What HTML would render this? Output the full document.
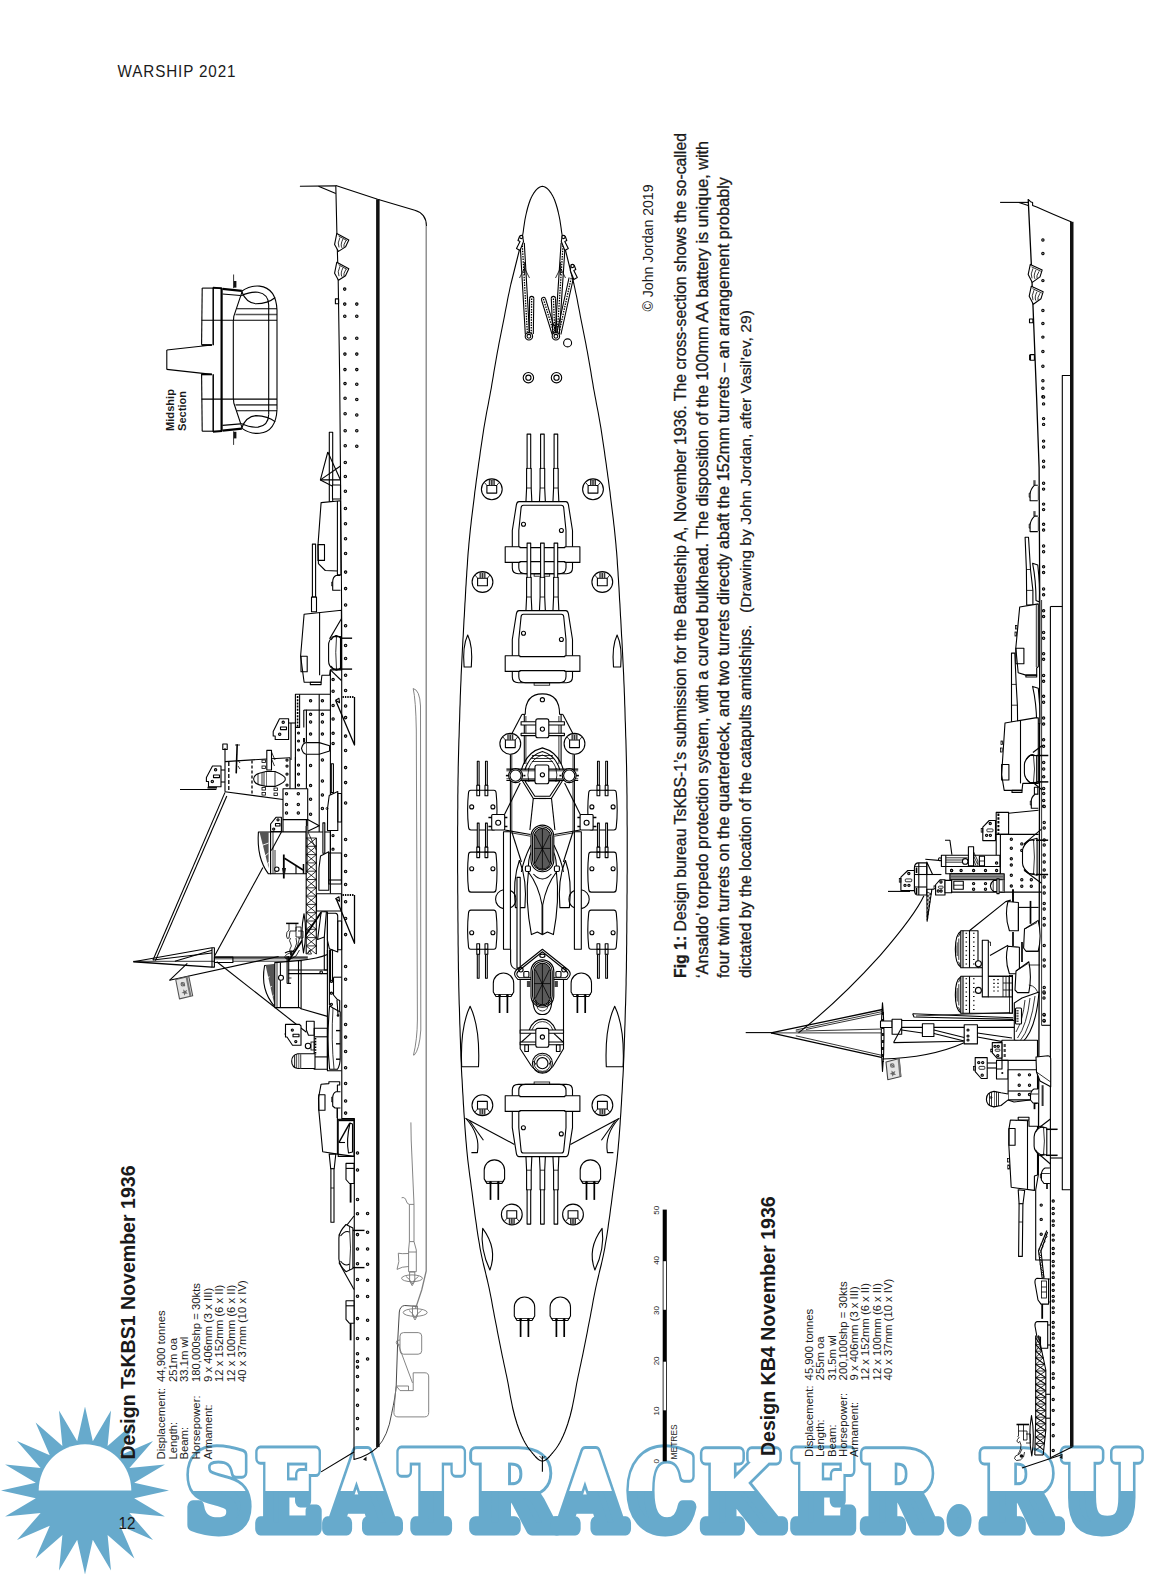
<!DOCTYPE html>
<html lang="en"><head><meta charset="utf-8"><title>Warship 2021 - page 12</title>
<style>
html,body{margin:0;padding:0;background:#fff;}
body{width:1163px;height:1576px;overflow:hidden;position:relative;font-family:"Liberation Sans",sans-serif;}
svg{position:absolute;left:0;top:0;display:block;}
.l{fill:none;stroke:#000;stroke-width:1.1;stroke-linejoin:round;stroke-linecap:butt;}
.t{fill:none;stroke:#000;stroke-width:.8;}
.g{fill:none;stroke:#777;stroke-width:.8;}
.w{fill:#fff;stroke:#000;stroke-width:1.1;stroke-linejoin:round;}
.k{fill:#111;stroke:none;}
.p{fill:#aaa;stroke:#000;stroke-width:1.05;}
text{font-family:"Liberation Sans",sans-serif;fill:#1a1a1a;}
</style></head><body>
<svg width="1163" height="1576" viewBox="0 0 1163 1576">
<!-- watermark -->
<defs><clipPath id="ct"><rect x="0" y="1400" width="1163" height="91"/></clipPath><clipPath id="cb"><rect x="0" y="1491" width="1163" height="100"/></clipPath></defs>
<g id="sun"><polygon fill="#67aacc" points="85.0,1406.5 77.2,1441.3 59.0,1410.6 62.4,1446.1 35.6,1422.5 49.8,1455.3 17.0,1441.1 40.6,1467.9 5.1,1464.5 35.8,1482.7 1.0,1490.5 35.8,1498.3 5.1,1516.5 40.6,1513.1 17.0,1539.9 49.8,1525.7 35.6,1558.5 62.4,1534.9 59.0,1570.4 77.2,1539.7 85.0,1574.5 92.8,1539.7 111.0,1570.4 107.6,1534.9 134.4,1558.5 120.2,1525.7 153.0,1539.9 129.4,1513.1 164.9,1516.5 134.2,1498.3 169.0,1490.5 134.2,1482.7 164.9,1464.5 129.4,1467.9 153.0,1441.1 120.2,1455.3 134.4,1422.5 107.6,1446.1 111.0,1410.6 92.8,1441.3"/>
<path fill="#fff" d="M38.7,1490.5 A46.3,46.3 0 0 1 131.3,1490.5 Z"/></g>
<g id="wm">
<g clip-path="url(#ct)"><text y="1528.70" font-size="104.80" style="font-family:'DejaVu Serif','Liberation Serif',serif;font-weight:bold;fill:#67aacc;stroke:#67aacc;stroke-width:13;stroke-linejoin:round"><tspan x="186.03" textLength="65.41" lengthAdjust="spacingAndGlyphs">S</tspan><tspan x="256.55" textLength="64.28" lengthAdjust="spacingAndGlyphs">E</tspan><tspan x="328.19" textLength="68.32" lengthAdjust="spacingAndGlyphs">A</tspan><tspan x="400.58" textLength="61.27" lengthAdjust="spacingAndGlyphs">T</tspan><tspan x="470.66" textLength="85.73" lengthAdjust="spacingAndGlyphs">R</tspan><tspan x="556.88" textLength="67.64" lengthAdjust="spacingAndGlyphs">A</tspan><tspan x="627.94" textLength="67.46" lengthAdjust="spacingAndGlyphs">C</tspan><tspan x="701.27" textLength="78.45" lengthAdjust="spacingAndGlyphs">K</tspan><tspan x="791.58" textLength="63.82" lengthAdjust="spacingAndGlyphs">E</tspan><tspan x="861.17" textLength="76.79" lengthAdjust="spacingAndGlyphs">R</tspan><tspan x="944.96" textLength="28.07" lengthAdjust="spacingAndGlyphs">.</tspan><tspan x="980.07" textLength="78.58" lengthAdjust="spacingAndGlyphs">R</tspan><tspan x="1062.24" textLength="78.02" lengthAdjust="spacingAndGlyphs">U</tspan></text><text y="1528.70" font-size="104.80" style="font-family:'DejaVu Serif','Liberation Serif',serif;font-weight:bold;fill:#fff;stroke:#fff;stroke-width:7;stroke-linejoin:round"><tspan x="186.03" textLength="65.41" lengthAdjust="spacingAndGlyphs">S</tspan><tspan x="256.55" textLength="64.28" lengthAdjust="spacingAndGlyphs">E</tspan><tspan x="328.19" textLength="68.32" lengthAdjust="spacingAndGlyphs">A</tspan><tspan x="400.58" textLength="61.27" lengthAdjust="spacingAndGlyphs">T</tspan><tspan x="470.66" textLength="85.73" lengthAdjust="spacingAndGlyphs">R</tspan><tspan x="556.88" textLength="67.64" lengthAdjust="spacingAndGlyphs">A</tspan><tspan x="627.94" textLength="67.46" lengthAdjust="spacingAndGlyphs">C</tspan><tspan x="701.27" textLength="78.45" lengthAdjust="spacingAndGlyphs">K</tspan><tspan x="791.58" textLength="63.82" lengthAdjust="spacingAndGlyphs">E</tspan><tspan x="861.17" textLength="76.79" lengthAdjust="spacingAndGlyphs">R</tspan><tspan x="944.96" textLength="28.07" lengthAdjust="spacingAndGlyphs">.</tspan><tspan x="980.07" textLength="78.58" lengthAdjust="spacingAndGlyphs">R</tspan><tspan x="1062.24" textLength="78.02" lengthAdjust="spacingAndGlyphs">U</tspan></text></g>
<g clip-path="url(#cb)"><text y="1528.70" font-size="104.80" style="font-family:'DejaVu Serif','Liberation Serif',serif;font-weight:bold;fill:#67aacc;stroke:#67aacc;stroke-width:13;stroke-linejoin:round"><tspan x="186.03" textLength="65.41" lengthAdjust="spacingAndGlyphs">S</tspan><tspan x="256.55" textLength="64.28" lengthAdjust="spacingAndGlyphs">E</tspan><tspan x="328.19" textLength="68.32" lengthAdjust="spacingAndGlyphs">A</tspan><tspan x="400.58" textLength="61.27" lengthAdjust="spacingAndGlyphs">T</tspan><tspan x="470.66" textLength="85.73" lengthAdjust="spacingAndGlyphs">R</tspan><tspan x="556.88" textLength="67.64" lengthAdjust="spacingAndGlyphs">A</tspan><tspan x="627.94" textLength="67.46" lengthAdjust="spacingAndGlyphs">C</tspan><tspan x="701.27" textLength="78.45" lengthAdjust="spacingAndGlyphs">K</tspan><tspan x="791.58" textLength="63.82" lengthAdjust="spacingAndGlyphs">E</tspan><tspan x="861.17" textLength="76.79" lengthAdjust="spacingAndGlyphs">R</tspan><tspan x="944.96" textLength="28.07" lengthAdjust="spacingAndGlyphs">.</tspan><tspan x="980.07" textLength="78.58" lengthAdjust="spacingAndGlyphs">R</tspan><tspan x="1062.24" textLength="78.02" lengthAdjust="spacingAndGlyphs">U</tspan></text></g>
</g>
<!-- text -->
<text transform="translate(117.6 77.4) scale(0.88 1)" font-size="17.3" fill="#333" letter-spacing="1">WARSHIP 2021</text>
<text x="118.6" y="1529.3" font-size="16" fill="#1d3850" textLength="17" lengthAdjust="spacingAndGlyphs">12</text>
<text transform="translate(135.4 1459.5) rotate(-90)" font-size="19.6" font-weight="bold" fill="#1a1a1a" textLength="294" lengthAdjust="spacingAndGlyphs">Design TsKBS1 November 1936</text>
<text transform="translate(775 1456) rotate(-90)" font-size="19.6" font-weight="bold" fill="#1a1a1a" textLength="259.7" lengthAdjust="spacingAndGlyphs">Design KB4 November 1936</text>
<text transform="translate(165.3 1459.5) rotate(-90)" font-size="11.3" font-weight="normal" fill="#1a1a1a">Displacement:</text>
<text transform="translate(812.9 1457) rotate(-90)" font-size="11.3" font-weight="normal" fill="#1a1a1a">Displacement:</text>
<text transform="translate(176.9 1459.5) rotate(-90)" font-size="11.3" font-weight="normal" fill="#1a1a1a">Length:</text>
<text transform="translate(824.2 1457) rotate(-90)" font-size="11.3" font-weight="normal" fill="#1a1a1a">Length:</text>
<text transform="translate(188.4 1459.5) rotate(-90)" font-size="11.3" font-weight="normal" fill="#1a1a1a">Beam:</text>
<text transform="translate(835.5 1457) rotate(-90)" font-size="11.3" font-weight="normal" fill="#1a1a1a">Beam:</text>
<text transform="translate(200.0 1459.5) rotate(-90)" font-size="11.3" font-weight="normal" fill="#1a1a1a">Horsepower:</text>
<text transform="translate(846.8 1457) rotate(-90)" font-size="11.3" font-weight="normal" fill="#1a1a1a">Horsepower:</text>
<text transform="translate(211.5 1459.5) rotate(-90)" font-size="11.3" font-weight="normal" fill="#1a1a1a">Armament:</text>
<text transform="translate(858.1 1457) rotate(-90)" font-size="11.3" font-weight="normal" fill="#1a1a1a">Armament:</text>
<text transform="translate(165.3 1382) rotate(-90)" font-size="11.3" font-weight="normal" fill="#1a1a1a">44,900 tonnes</text>
<text transform="translate(176.9 1382) rotate(-90)" font-size="11.3" font-weight="normal" fill="#1a1a1a">251m oa</text>
<text transform="translate(188.4 1382) rotate(-90)" font-size="11.3" font-weight="normal" fill="#1a1a1a">33.1m wl</text>
<text transform="translate(200.0 1382) rotate(-90)" font-size="11.3" font-weight="normal" fill="#1a1a1a">180,000shp = 30kts</text>
<text transform="translate(211.5 1382) rotate(-90)" font-size="11.3" font-weight="normal" fill="#1a1a1a">9 x 406mm (3 x III)</text>
<text transform="translate(223.1 1382) rotate(-90)" font-size="11.3" font-weight="normal" fill="#1a1a1a">12 x 152mm (6 x II)</text>
<text transform="translate(234.6 1382) rotate(-90)" font-size="11.3" font-weight="normal" fill="#1a1a1a">12 x 100mm (6 x II)</text>
<text transform="translate(246.2 1382) rotate(-90)" font-size="11.3" font-weight="normal" fill="#1a1a1a">40 x 37mm (10 x IV)</text>
<text transform="translate(812.9 1380.4) rotate(-90)" font-size="11.3" font-weight="normal" fill="#1a1a1a">45,900 tonnes</text>
<text transform="translate(824.2 1380.4) rotate(-90)" font-size="11.3" font-weight="normal" fill="#1a1a1a">255m oa</text>
<text transform="translate(835.5 1380.4) rotate(-90)" font-size="11.3" font-weight="normal" fill="#1a1a1a">31.5m wl</text>
<text transform="translate(846.8 1380.4) rotate(-90)" font-size="11.3" font-weight="normal" fill="#1a1a1a">200,100shp = 30kts</text>
<text transform="translate(858.1 1380.4) rotate(-90)" font-size="11.3" font-weight="normal" fill="#1a1a1a">9 x 406mm (3 x III)</text>
<text transform="translate(869.4 1380.4) rotate(-90)" font-size="11.3" font-weight="normal" fill="#1a1a1a">12 x 152mm (6 x II)</text>
<text transform="translate(880.7 1380.4) rotate(-90)" font-size="11.3" font-weight="normal" fill="#1a1a1a">12 x 100mm (6 x II)</text>
<text transform="translate(892.0 1380.4) rotate(-90)" font-size="11.3" font-weight="normal" fill="#1a1a1a">40 x 37mm (10 x IV)</text>
<text transform="translate(174 431) rotate(-90)" font-size="11" font-weight="bold" fill="#1a1a1a" textLength="42" lengthAdjust="spacingAndGlyphs">Midship</text>
<text transform="translate(186 431) rotate(-90)" font-size="11" font-weight="bold" fill="#1a1a1a" textLength="40" lengthAdjust="spacingAndGlyphs">Section</text>
<text transform="translate(652.5 311.5) rotate(-90)" font-size="14" font-weight="normal" fill="#333" textLength="127" lengthAdjust="spacingAndGlyphs">© John Jordan 2019</text>
<text transform="translate(685.7 978) rotate(-90)" font-size="16.8" fill="#1a1a1a" stroke="#1a1a1a" stroke-width=".3" textLength="845" lengthAdjust="spacingAndGlyphs"><tspan font-weight="bold">Fig 1:</tspan> Design bureau TsKBS-1’s submission for the Battleship A, November 1936. The cross-section shows the so-called</text>
<text transform="translate(707.6 978) rotate(-90)" font-size="16.8" font-weight="normal" fill="#1a1a1a" textLength="837" lengthAdjust="spacingAndGlyphs" stroke="#1a1a1a" stroke-width=".3">‘Ansaldo’ torpedo protection system, with a curved bulkhead. The disposition of the 100mm AA battery is unique, with</text>
<text transform="translate(729.4 978) rotate(-90)" font-size="16.8" font-weight="normal" fill="#1a1a1a" textLength="801" lengthAdjust="spacingAndGlyphs" stroke="#1a1a1a" stroke-width=".3">four twin turrets on the quarterdeck, and two turrets directly abaft the 152mm turrets – an arrangement probably</text>
<text transform="translate(751.4 978) rotate(-90)" font-size="16.8" font-weight="normal" fill="#1a1a1a" textLength="353.5" lengthAdjust="spacingAndGlyphs" stroke="#1a1a1a" stroke-width=".3">dictated by the location of the catapults amidships.</text>
<text transform="translate(751.4 613) rotate(-90)" font-size="14.5" font-weight="normal" fill="#1a1a1a" textLength="303" lengthAdjust="spacingAndGlyphs" stroke="#1a1a1a" stroke-width=".2">(Drawing by John Jordan, after Vasil’ev, 29)</text>
<text transform="translate(659.4 1461.3) rotate(-90)" font-size="8" text-anchor="middle" fill="#222">0</text>
<text transform="translate(659.4 1411.1) rotate(-90)" font-size="8" text-anchor="middle" fill="#222">10</text>
<text transform="translate(659.4 1360.9) rotate(-90)" font-size="8" text-anchor="middle" fill="#222">20</text>
<text transform="translate(659.4 1310.6) rotate(-90)" font-size="8" text-anchor="middle" fill="#222">30</text>
<text transform="translate(659.4 1260.4) rotate(-90)" font-size="8" text-anchor="middle" fill="#222">40</text>
<text transform="translate(659.4 1210.2) rotate(-90)" font-size="8" text-anchor="middle" fill="#222">50</text>
<text transform="translate(677.4 1459.4) rotate(-90)" font-size="8.3" font-weight="normal" fill="#222" textLength="35" lengthAdjust="spacingAndGlyphs">METRES</text>
<!-- mid -->
<polyline class="l" points="202.2,288.1 201.6,344.8"/>
<polyline class="l" points="201.6,373.8 202.2,431.2"/>
<polyline class="l" points="202.2,288.1 221.6,288.1"/>
<polyline class="l" points="202.2,431.2 221.6,431.2"/>
<polyline class="l" points="213.2,287.6 213.2,345.2" style="stroke-width:1.5"/>
<polyline class="l" points="201.6,345 211.9,345" style="stroke-width:1.8"/>
<polyline class="l" points="211.9,345 166.8,350"/>
<polyline class="l" points="201.6,320.3 277,320.3"/>
<polyline class="l" points="213,287.6 222,288.4" style="stroke-width:1.8"/>
<polyline class="l" points="222.5,288.8 241.8,290.8" style="stroke-width:2.2"/>
<polyline class="l" points="222.5,294 240.5,295.5"/>
<path class="l" d="M241.6,291.3 Q250,285.2 259.6,286.1 Q276,288 277,310"/>
<path class="l" d="M241.2,295.8 Q250,291.5 258,292.3 Q268.5,294 268.7,305"/>
<path class="l" d="M241.6,291.3 Q246,303 256,303.8 Q268,303.5 275.3,297.5"/>
<polyline class="l" points="242.2,291.3 233.8,316.4 233.5,320.3"/>
<polyline class="l" points="237,308.7 277,308.7"/>
<polyline class="l" points="235.5,314.5 277,314.5" style="stroke:#555;stroke-width:1.6"/>
<polyline class="t" points="233.6,274.5 233.6,288.1"/>
<rect class="k" x="233.8" y="281" width="2.6" height="6.6"/>
<polyline class="l" points="213.2,431.8 213.2,374.2" style="stroke-width:1.5"/>
<polyline class="l" points="201.6,374.4 211.9,374.4" style="stroke-width:1.8"/>
<polyline class="l" points="211.9,374.4 166.8,369.4"/>
<polyline class="l" points="201.6,399.1 277,399.1"/>
<polyline class="l" points="213,431.8 222,431" style="stroke-width:1.8"/>
<polyline class="l" points="222.5,430.6 241.8,428.6" style="stroke-width:2.2"/>
<polyline class="l" points="222.5,425.4 240.5,423.9"/>
<path class="l" d="M241.6,428.09999999999997 Q250,434.2 259.6,433.29999999999995 Q276,431.4 277,409.4"/>
<path class="l" d="M241.2,423.59999999999997 Q250,427.9 258,427.09999999999997 Q268.5,425.4 268.7,414.4"/>
<path class="l" d="M241.6,428.09999999999997 Q246,416.4 256,415.59999999999997 Q268,415.9 275.3,421.9"/>
<polyline class="l" points="242.2,428.1 233.8,403 233.5,399.1"/>
<polyline class="l" points="237,410.7 277,410.7"/>
<polyline class="l" points="235.5,404.9 277,404.9" style="stroke:#555;stroke-width:1.6"/>
<polyline class="t" points="233.6,444.9 233.6,431.3"/>
<rect class="k" x="233.8" y="431.8" width="2.6" height="6.6"/>
<polyline class="l" points="166.8,350 166.8,369.4"/>
<polyline class="l" points="221.6,288.1 221.6,431.2" style="stroke-width:2.2"/>
<polyline class="l" points="233.3,320.3 233.3,399.1"/>
<polyline class="l" points="268.7,305 268.7,414.4"/>
<polyline class="l" points="277,310 277,409.4"/>
<!-- under -->
<path class="l" d="M426.2,226 L426.2,1271 L421.7,1290 L415.5,1308.6" style="stroke:#808080;stroke-width:1.3"/>
<path class="l" d="M413.2,688.5 Q419.8,690 420.5,706 L420.8,1030 Q419.5,1050 414,1055.4 L413.5,1055 Q417.2,1040 417.4,1020 L416.3,730 Q415.8,700 413.2,688.5 Z" style="stroke:#777;stroke-width:.9"/>
<path class="l" d="M377.6,1447.1 Q388,1436 391.6,1413.8 Q395.5,1396 396.2,1386 L397.7,1341 L399.3,1312 Q400,1306 404.7,1305.5 L416.3,1306.3" style="stroke:#333;stroke-width:.9"/>
<path class="l" d="M410.9,1122.4 L411.2,1140 L414,1204.4" style="stroke:#777;stroke-width:.9"/>
<path class="l" d="M401.6,1197.8 Q405,1196.5 406.3,1201 Q407,1204 409.4,1204.4" style="stroke:#777;stroke-width:.9"/>
<rect class="l" x="409.4" y="1204.4" width="4.6" height="37.2" style="stroke:#777;stroke-width:.9"/>
<path class="l" d="M409.4,1241.6 L408.6,1250 L408.6,1271.7 L416.3,1271.7 L416.3,1250 L414,1241.6" style="stroke:#777;stroke-width:.9"/>
<polyline class="l" points="408.6,1252 416.3,1252" style="stroke:#777;stroke-width:.9"/>
<path class="l" d="M408.6,1253.5 Q401,1254 398.3,1253.2 Q400,1262 397,1269.4 Q402,1266.5 408.6,1266.5" style="stroke:#777;stroke-width:.9"/>
<ellipse cx="412" cy="1278.3" rx="10.4" ry="3.4" class="l" style="stroke:#777;stroke-width:.9"/>
<path class="l" d="M409.6,1272 L414.8,1272 L414.8,1281 L412.2,1285.7 L409.6,1281 Z" style="stroke:#777;stroke-width:.9" fill="#fff"/>
<path class="l" d="M406,1276.5 Q410,1279 412.2,1284 Q414,1279 418.5,1276.5" style="stroke:#777;stroke-width:.9"/>
<ellipse cx="415.2" cy="1312.5" rx="12" ry="3.8" class="l" style="stroke:#777;stroke-width:.9"/>
<path class="l" d="M412.5,1306 L417.5,1306 L417.5,1315.5 L415,1320 L412.5,1315.5 Z" style="stroke:#777;stroke-width:.9"/>
<path class="l" d="M409,1310.5 Q413,1313 415,1318 Q417,1313 421.5,1310.5" style="stroke:#777;stroke-width:.9"/>
<rect class="l" x="400" y="1332.6" width="21.7" height="21.6" rx="3.5" style="stroke:#777;stroke-width:.9"/>
<path class="l" d="M400,1340 L397,1340.5 Q395.5,1342.5 397,1344.5 L400,1345" style="stroke:#777;stroke-width:.9"/>
<polyline class="l" points="397.7,1343 412.5,1382.9" style="stroke:#777;stroke-width:.9"/>
<path class="l" d="M413.2,1372.8 L425,1372.8 Q428.7,1372.8 428.7,1377 L428.7,1412.5 Q428.7,1416.9 424.5,1416.9 L398,1416.9 Q393.9,1416.9 393.9,1412.5 L395.5,1392 L396.4,1386 L400,1390.6 L413.2,1390.6 Z" style="stroke:#777;stroke-width:.9"/>
<path class="l" d="M396.4,1386 L408.5,1386 L408.5,1390.6" style="stroke:#777;stroke-width:.9"/>
<!-- ship1 -->
<polyline class="l" points="299.9,186.2 335.8,185.9"/>
<polyline class="l" points="318.5,186.3 335.8,193.6"/>
<path class="l" d="M335.8,185.4 L377.6,199.3 L414.8,210.2 Q426.4,213.5 426.4,226"/>
<polyline class="l" points="335.8,185.4 336.9,233.4 338.2,280.6 339.7,379.7 341.3,570 341.7,620 341.8,1118.5 354.4,1118.5 354,1453.3"/>
<path class="l" d="M354,1453.3 L354,1459.5 Q368,1456 377.6,1447.1"/>
<polyline class="l" points="354,1452 321.1,1471.9"/>
<polygon class="k" points="363,1459.5 366.5,1456.5 366.5,1461"/>
<rect class="k" x="376.1" y="199.3" width="3.5" height="1247.8"/>
<circle class="p" cx="344.7" cy="289.1" r="1.25"/>
<circle class="p" cx="344.75" cy="304.1" r="1.25"/>
<circle class="p" cx="344.79" cy="316.2" r="1.25"/>
<circle class="p" cx="344.863" cy="338.2" r="1.25"/>
<circle class="p" cx="344.916" cy="354.1" r="1.25"/>
<circle class="p" cx="344.968" cy="369.6" r="1.25"/>
<circle class="p" cx="345.014" cy="383.6" r="1.25"/>
<circle class="p" cx="345.063" cy="398.3" r="1.25"/>
<circle class="p" cx="345.114" cy="413.8" r="1.25"/>
<circle class="p" cx="345.171" cy="430.7" r="1.25"/>
<circle class="p" cx="345.221" cy="445.8" r="1.25"/>
<circle class="p" cx="345.276" cy="462.4" r="1.25"/>
<circle class="p" cx="345.323" cy="476.5" r="1.25"/>
<circle class="p" cx="345.372" cy="491.2" r="1.25"/>
<circle class="p" cx="345.429" cy="508.5" r="1.25"/>
<circle class="p" cx="345.479" cy="523.7" r="1.25"/>
<circle class="p" cx="345.529" cy="538.7" r="1.25"/>
<circle class="p" cx="345.578" cy="553.4" r="1.25"/>
<circle class="p" cx="345.6" cy="572.1" r="1.25"/>
<circle class="p" cx="345.6" cy="588.6" r="1.25"/>
<circle class="p" cx="345.6" cy="604.9" r="1.25"/>
<circle class="p" cx="345.6" cy="625.8" r="1.25"/>
<circle class="p" cx="345.6" cy="645.4" r="1.25"/>
<circle class="p" cx="345.6" cy="658.4" r="1.25"/>
<circle class="p" cx="345.6" cy="675.3" r="1.25"/>
<circle class="p" cx="345.6" cy="690.5" r="1.25"/>
<circle class="p" cx="345.6" cy="706" r="1.25"/>
<circle class="p" cx="345.6" cy="717.6" r="1.25"/>
<circle class="p" cx="345.6" cy="736.1" r="1.25"/>
<circle class="p" cx="345.6" cy="750.4" r="1.25"/>
<circle class="p" cx="345.6" cy="767.6" r="1.25"/>
<circle class="p" cx="345.6" cy="782.6" r="1.25"/>
<circle class="p" cx="345.6" cy="803" r="1.25"/>
<circle class="p" cx="345.6" cy="839.4" r="1.25"/>
<circle class="p" cx="345.6" cy="855.5" r="1.25"/>
<circle class="p" cx="345.6" cy="871.5" r="1.25"/>
<circle class="p" cx="345.6" cy="884.4" r="1.25"/>
<circle class="p" cx="345.6" cy="901.7" r="1.25"/>
<circle class="p" cx="345.6" cy="918.5" r="1.25"/>
<circle class="p" cx="345.6" cy="934.6" r="1.25"/>
<circle class="p" cx="345.6" cy="966.4" r="1.25"/>
<circle class="p" cx="345.6" cy="979.2" r="1.25"/>
<circle class="p" cx="345.6" cy="1006.3" r="1.25"/>
<circle class="p" cx="345.6" cy="1024.4" r="1.25"/>
<circle class="p" cx="345.6" cy="1037.1" r="1.25"/>
<circle class="p" cx="345.6" cy="1051.5" r="1.25"/>
<circle class="p" cx="345.6" cy="1067.7" r="1.25"/>
<circle class="p" cx="345.6" cy="1083.5" r="1.25"/>
<circle class="p" cx="345.6" cy="1101" r="1.25"/>
<circle class="p" cx="345.6" cy="1113.1" r="1.25"/>
<circle class="p" cx="356.8" cy="304.1" r="1.25"/>
<circle class="p" cx="356.8" cy="316.2" r="1.25"/>
<circle class="p" cx="356.8" cy="338.2" r="1.25"/>
<circle class="p" cx="356.8" cy="354.1" r="1.25"/>
<circle class="p" cx="356.8" cy="369.6" r="1.25"/>
<circle class="p" cx="356.8" cy="384.2" r="1.25"/>
<circle class="p" cx="356.8" cy="399.4" r="1.25"/>
<circle class="p" cx="356.8" cy="414.9" r="1.25"/>
<circle class="p" cx="356.8" cy="430.7" r="1.25"/>
<circle class="p" cx="356.8" cy="446.3" r="1.25"/>
<circle class="p" cx="357.5" cy="1153" r="1.25"/>
<circle class="p" cx="357.5" cy="1170" r="1.25"/>
<circle class="p" cx="357.5" cy="1199.5" r="1.25"/>
<circle class="p" cx="357.5" cy="1213.7" r="1.25"/>
<circle class="p" cx="357.5" cy="1234.6" r="1.25"/>
<circle class="p" cx="357.5" cy="1249" r="1.25"/>
<circle class="p" cx="357.5" cy="1263.7" r="1.25"/>
<circle class="p" cx="357.5" cy="1279.5" r="1.25"/>
<circle class="p" cx="357.5" cy="1296.2" r="1.25"/>
<circle class="p" cx="357.5" cy="1318.6" r="1.25"/>
<circle class="p" cx="357.5" cy="1338.4" r="1.25"/>
<circle class="p" cx="357.5" cy="1353.8" r="1.25"/>
<circle class="p" cx="357.5" cy="1361.5" r="1.25"/>
<circle class="p" cx="357.5" cy="1367.1" r="1.25"/>
<circle class="p" cx="357.5" cy="1376.4" r="1.25"/>
<circle class="p" cx="357.5" cy="1390.1" r="1.25"/>
<circle class="p" cx="357.5" cy="1405.3" r="1.25"/>
<circle class="p" cx="357.5" cy="1418.5" r="1.25"/>
<circle class="p" cx="357.5" cy="1428.8" r="1.25"/>
<circle class="p" cx="367.6" cy="1213.4" r="1.25"/>
<circle class="p" cx="367.6" cy="1232.3" r="1.25"/>
<circle class="p" cx="367.6" cy="1249" r="1.25"/>
<circle class="p" cx="367.6" cy="1264.3" r="1.25"/>
<circle class="p" cx="367.6" cy="1280.3" r="1.25"/>
<circle class="p" cx="367.6" cy="1296.5" r="1.25"/>
<circle class="p" cx="367.6" cy="1320.2" r="1.25"/>
<circle class="p" cx="367.6" cy="1338.8" r="1.25"/>
<circle class="p" cx="367.6" cy="1358.9" r="1.25"/>
<rect class="l" x="335.4" y="298.9" width="3.2" height="4.9"/>
<polygon class="w" points="336.8,233.4 348.8,239.9 345.5,246.9 338.5,251.4 334.6,244.4"/>
<polyline class="t" points="338.5,235.9 347,240.6"/>
<path class="t" d="M340,237.4 q-3,6 -1,10 M343,238.9 q-3,6 -1,9 M346,240.4 q-3,5 -2,7"/>
<polygon class="w" points="336.8,262.2 348.8,268.7 345.5,275.7 338.5,280.2 334.6,273.2"/>
<polyline class="t" points="338.5,264.7 347,269.4"/>
<path class="t" d="M340,266.2 q-3,6 -1,10 M343,267.7 q-3,6 -1,9 M346,269.2 q-3,5 -2,7"/>
<rect class="w" x="329.3" y="432.2" width="3.4" height="69.4"/>
<polyline class="l" points="327.8,452 320.4,479.9 340.5,479.9"/>
<polyline class="l" points="327.8,452 340.5,479.9"/>
<polyline class="l" points="320.4,479.9 340.5,466"/>
<polyline class="l" points="320.4,479.9 340,490"/>
<rect class="w" x="332.5" y="485" width="8" height="14"/>
<polygon class="w" points="340.5,500.8 321.1,502.6 318,544.9 318.4,563.6 325.3,570.5 337.4,571 337.4,574.7 340.9,574.7"/>
<polyline class="l" points="337.4,500.9 337.4,571"/>
<rect class="l" x="318" y="544.6" width="6.5" height="15.8"/>
<rect class="w" x="312.4" y="544.1" width="3.2" height="53"/>
<rect class="w" x="311.5" y="597.1" width="5" height="14.7"/>
<path class="w" d="M340.5,575.5 L336,575.5 Q332.7,577 332.7,582 L332.7,590.2 L340.5,590.2"/>
<polyline class="t" points="332.7,582 331.7,582 331.7,586 332.7,586"/>
<polygon class="w" points="341.4,610.3 304.1,614.2 300.6,656 304.1,682.3 321.1,682.3 321.9,675.3 329.6,675.3 330.4,669.9 341.6,669.9"/>
<polyline class="l" points="319.6,612.6 319.6,675.3"/>
<rect class="l" x="301" y="656.3" width="6.2" height="15.4"/>
<rect class="l" x="310.3" y="682.3" width="10.8" height="2.3"/>
<polyline class="l" points="329.6,638.9 341.4,618.8"/>
<polyline class="l" points="330.4,669.9 341.4,680.5"/>
<path class="w" d="M340.5,636.6 L333,636.6 Q328.6,640 328.6,645 L328.6,661 Q328.6,666 333,669.1 L340.5,669.1 Z"/>
<path class="t" d="M336.5,636.6 Q335,652 336.5,669.1"/>
<path class="l" d="M331,640 Q336,632 340,638 M331,666 Q336,673 340,668"/>
<polyline class="l" points="340.5,638.2 352.1,638.2" style="stroke-width:1.4"/>
<polyline class="l" points="340.5,669.1 352.1,669.1" style="stroke-width:1.4"/>
<!-- ship1b -->
<polyline class="l" points="330.4,669.9 330.4,893.8"/>
<circle class="p" cx="333.1" cy="679.6" r="1.2"/>
<circle class="p" cx="333.1" cy="691.2" r="1.2"/>
<circle class="p" cx="333.1" cy="705.5" r="1.2"/>
<circle class="p" cx="333.1" cy="719" r="1.2"/>
<circle class="p" cx="333.1" cy="733.3" r="1.2"/>
<circle class="p" cx="333.1" cy="743.4" r="1.2"/>
<polyline class="l" points="295.4,788.2 295.4,694.3 330.4,694.3"/>
<polyline class="l" points="306.4,709.8 306.4,832"/>
<polyline class="l" points="303.8,710.1 330.4,710.1"/>
<polyline class="l" points="303.8,710.1 303.8,727.5"/>
<polyline class="l" points="319.2,694.3 319.2,832"/>
<polyline class="l" points="299.6,694.3 299.6,727.4 295.4,727.4"/>
<polyline class="l" points="297.6,696 297.6,727" stroke-dasharray="2 1.2" style="stroke-width:1.6"/>
<circle class="p" cx="310.6" cy="700.8" r="1.2"/>
<circle class="p" cx="310.6" cy="714.3" r="1.2"/>
<circle class="p" cx="310.6" cy="722" r="1.2"/>
<circle class="p" cx="310.6" cy="734.1" r="1.2"/>
<circle class="p" cx="322.4" cy="700.8" r="1.2"/>
<circle class="p" cx="322.4" cy="714.3" r="1.2"/>
<circle class="p" cx="322.4" cy="722" r="1.2"/>
<circle class="p" cx="322.4" cy="734.1" r="1.2"/>
<circle class="p" cx="322.4" cy="760" r="1.2"/>
<circle class="p" cx="322.4" cy="781" r="1.2"/>
<circle class="p" cx="322.4" cy="794.9" r="1.2"/>
<circle class="p" cx="322.4" cy="808.5" r="1.2"/>
<circle class="p" cx="310.6" cy="765.5" r="1.2"/>
<circle class="p" cx="310.6" cy="785.6" r="1.2"/>
<circle class="p" cx="310.6" cy="799.2" r="1.2"/>
<circle class="p" cx="310.6" cy="814.2" r="1.2"/>
<circle class="p" cx="298.5" cy="733" r="1"/>
<circle class="p" cx="298.5" cy="741" r="1"/>
<circle class="p" cx="298.5" cy="750" r="1"/>
<polygon class="w" points="273.2,731.5 279.5,718.8 288.6,718.8 288.6,739.5 275.2,739.5 275.2,736 273.2,736"/>
<circle class="p" cx="283.2" cy="722.3" r="1.2"/>
<circle class="p" cx="279.7" cy="734.2" r="1.2"/>
<rect class="l" x="280.5" y="727" width="6" height="2.6"/>
<polyline class="l" points="288.6,723 295.4,723"/>
<polyline class="l" points="291,723 291,760"/>
<polygon class="w" points="306.4,742.6 319.2,742.6 329.6,745.8 329.6,751 319.2,754.2 306.4,754.2"/>
<polyline class="l" points="319.2,742.6 319.2,754.2"/>
<path class="w" d="M306.4,742.6 Q303,742.6 301.5,748.4 Q303,754.2 306.4,754.2"/>
<rect class="k" x="303" y="738" width="2" height="4.6"/>
<polyline class="l" points="225,748 225,791.8"/>
<rect class="l" x="222.8" y="744" width="4.4" height="5.5"/>
<polyline class="l" points="225,761.6 266.8,759 290,757.7"/>
<polyline class="l" points="225,791.8 283,799.5"/>
<polyline class="l" points="228.8,762 228.8,792" stroke-dasharray="4 2" style="stroke-width:1.3"/>
<polyline class="l" points="252,760.5 252,795" stroke-dasharray="3 2" style="stroke-width:1.3"/>
<polygon class="w" points="206.4,777.5 212.5,766 221,766 221,786.8 208.5,786.8 208.5,781.5 206.4,781.5"/>
<circle class="p" cx="215.6" cy="769.8" r="1.2"/>
<circle class="p" cx="212.3" cy="781.5" r="1.2"/>
<rect class="l" x="213.5" y="775" width="6" height="2.6"/>
<polyline class="l" points="221,770 225,770"/>
<polyline class="l" points="221,782 225,782"/>
<rect class="k" x="207.5" y="786.8" width="9.5" height="1.8"/>
<polyline class="l" points="180,789.5 216.4,789.5"/>
<polyline class="l" points="237.2,744.2 236.2,773.4" style="stroke-width:1.6"/>
<polyline class="t" points="235,745 240,745"/>
<polyline class="t" points="238,760 240,763"/>
<polyline class="t" points="238,766 240,769"/>
<rect class="w" x="266.8" y="750.4" width="4.7" height="19.6"/>
<polyline class="t" points="271.5,752 275,760"/>
<polyline class="t" points="272,760 274.5,766"/>
<path class="w" d="M266,771.5 L275,771.5 Q286,776 285.3,779 Q286,782 275,786.4 L266,786.4 Z"/>
<path class="w" d="M266,771.5 L262,772.5 Q254,774 253.6,779 Q254,784 262,785.5 L266,786.4"/>
<polyline class="t" points="262,772.5 262,785.5"/>
<polyline class="t" points="264,772 264,786"/>
<polyline class="t" points="258,774 258,784"/>
<polyline class="t" points="275,771.5 275,786.4"/>
<rect class="t" x="262" y="760" width="3.4" height="2.6"/>
<rect class="t" x="262" y="766" width="3.4" height="2.6"/>
<rect class="t" x="262" y="787.5" width="3.4" height="2.6"/>
<rect class="t" x="262" y="792.5" width="3.4" height="2.6"/>
<rect class="t" x="274" y="788" width="3.4" height="2.6"/>
<rect class="t" x="274" y="793" width="3.4" height="2.6"/>
<circle class="p" cx="287" cy="760" r="1.1"/>
<circle class="p" cx="287" cy="766" r="1.1"/>
<circle class="p" cx="287" cy="774" r="1.1"/>
<circle class="p" cx="287" cy="785" r="1.1"/>
<circle class="p" cx="298.5" cy="765" r="1.1"/>
<circle class="p" cx="298.5" cy="774" r="1.1"/>
<circle class="p" cx="298.5" cy="785" r="1.1"/>
<polyline class="l" points="290,757.7 290,788.7"/>
<polyline class="l" points="295.4,757 295.4,788.7"/>
<polyline class="l" points="225,792.4 152.9,960.2"/>
<polyline class="l" points="226.8,796 155.4,960.6"/>
<polyline class="l" points="262.9,867.6 214.4,956.3"/>
<rect class="w" x="283" y="788.7" width="24.7" height="30.9"/>
<circle class="p" cx="286.5" cy="793.7" r="1.2"/>
<circle class="p" cx="286.5" cy="804.5" r="1.2"/>
<circle class="p" cx="286.5" cy="813" r="1.2"/>
<circle class="p" cx="298.3" cy="793.7" r="1.2"/>
<circle class="p" cx="298.3" cy="804.5" r="1.2"/>
<circle class="p" cx="298.3" cy="813" r="1.2"/>
<polyline class="l" points="283,819.6 283,832"/>
<polygon class="l" points="307.7,819.6 319.2,825.8 307.7,831.3"/>
<polyline class="l" points="270.6,832 330.4,832"/>
<polygon class="w" points="270.6,824 276,817.3 281.4,817.3 281.4,831.5 270.6,831.5"/>
<circle class="p" cx="278" cy="819.8" r="1.1"/>
<circle class="p" cx="273.7" cy="829" r="1.1"/>
<rect class="l" x="275.5" y="823.5" width="4.5" height="2.5"/>
<path class="w" d="M258.4,832 Q256.5,858 268.4,873.8 L270.6,873.8 L270.6,832 Z"/>
<path class="k" d="M259.5,832 L268.6,832 L268.6,868 Z" style="fill:#555"/>
<path class="l" d="M260.5,846 L268.6,843 M262.5,858 L268.6,853 M265.5,867.5 L268.6,862" style="stroke:#fff;stroke-width:.9;fill:none"/>
<rect class="w" x="270.6" y="832" width="35.6" height="41.8"/>
<polyline class="t" points="273,832 273,873.8"/>
<polyline class="t" points="275,850 275,873.8"/>
<polyline class="l" points="271.4,850.6 281.4,832"/>
<circle class="w" cx="276.8" cy="869.2" r="2.2"/>
<polyline class="l" points="283.8,854.5 283.8,878.5" style="stroke-width:1.8"/>
<polyline class="l" points="284.5,858.3 303.1,870" style="stroke-width:1.6"/>
<polyline class="l" points="296,866 296,873.8"/>
<polyline class="l" points="303.5,864 303.5,873.8" style="stroke-width:1.5"/>
<polygon class="k" points="282,868 286,868 285,874 283,874"/>
<polyline class="l" points="306.2,826 306.2,954"/>
<polyline class="l" points="316.3,838 316.3,954"/>
<polyline class="l" points="307.2,826 307.2,873" style="stroke:#666;stroke-width:1.4"/>
<polyline class="t" points="306.2,838 316.3,838"/>
<polyline class="t" points="306.2,838 316.3,846.3"/>
<polyline class="t" points="316.3,838 306.2,846.3"/>
<polyline class="t" points="306.2,846.3 316.3,846.3"/>
<polyline class="t" points="306.2,846.3 316.3,854.6"/>
<polyline class="t" points="316.3,846.3 306.2,854.6"/>
<polyline class="t" points="306.2,854.6 316.3,854.6"/>
<polyline class="t" points="306.2,854.6 316.3,862.9"/>
<polyline class="t" points="316.3,854.6 306.2,862.9"/>
<polyline class="t" points="306.2,862.9 316.3,862.9"/>
<polyline class="t" points="306.2,862.9 316.3,871.2"/>
<polyline class="t" points="316.3,862.9 306.2,871.2"/>
<polyline class="t" points="306.2,871.2 316.3,871.2"/>
<polyline class="t" points="306.2,871.2 316.3,879.5"/>
<polyline class="t" points="316.3,871.2 306.2,879.5"/>
<polyline class="t" points="306.2,879.5 316.3,879.5"/>
<polyline class="t" points="306.2,879.5 316.3,887.8"/>
<polyline class="t" points="316.3,879.5 306.2,887.8"/>
<polyline class="t" points="306.2,887.8 316.3,887.8"/>
<polyline class="t" points="306.2,887.8 316.3,896.1"/>
<polyline class="t" points="316.3,887.8 306.2,896.1"/>
<polyline class="t" points="306.2,896.1 316.3,896.1"/>
<polyline class="t" points="306.2,896.1 316.3,904.4"/>
<polyline class="t" points="316.3,896.1 306.2,904.4"/>
<polyline class="t" points="306.2,904.4 316.3,904.4"/>
<polyline class="t" points="306.2,904.4 316.3,912.7"/>
<polyline class="t" points="316.3,904.4 306.2,912.7"/>
<polyline class="t" points="306.2,912.7 316.3,912.7"/>
<polyline class="t" points="306.2,912.7 316.3,921"/>
<polyline class="t" points="316.3,912.7 306.2,921"/>
<polyline class="t" points="306.2,921 316.3,921"/>
<polyline class="t" points="306.2,921 316.3,929.3"/>
<polyline class="t" points="316.3,921 306.2,929.3"/>
<polyline class="t" points="306.2,929.3 316.3,929.3"/>
<polyline class="t" points="306.2,929.3 316.3,937.6"/>
<polyline class="t" points="316.3,929.3 306.2,937.6"/>
<polyline class="t" points="306.2,937.6 316.3,937.6"/>
<polyline class="t" points="306.2,937.6 316.3,945.9"/>
<polyline class="t" points="316.3,937.6 306.2,945.9"/>
<polyline class="t" points="306.2,945.9 316.3,945.9"/>
<polyline class="t" points="306.2,945.9 316.3,954.2"/>
<polyline class="t" points="316.3,945.9 306.2,954.2"/>
<polyline class="t" points="308,832 316.3,850"/>
<rect class="w" x="331.3" y="763.8" width="2.1" height="28.8"/>
<polygon class="w" points="337.8,791.5 329.2,795.5 327.6,808 327.5,830.5 337.8,830.5"/>
<rect class="l" x="337.8" y="793.5" width="3.6" height="28.5"/>
<circle class="t" cx="327" cy="808.5" r="1"/>
<rect class="w" x="322.9" y="822.9" width="1.9" height="30.3"/>
<polygon class="w" points="328.8,851.8 320.5,856 319,868 318.9,890.3 328.8,890.3"/>
<rect class="l" x="328.8" y="853" width="12.6" height="31"/>
<polyline class="l" points="328.8,880 341.4,880"/>
<circle class="p" cx="333" cy="835.5" r="1.1"/>
<circle class="p" cx="333" cy="849.2" r="1.1"/>
<polyline class="l" points="330.4,832 330.4,853"/>
<rect class="w" x="316.5" y="893.8" width="24.9" height="17.2"/>
<polyline class="l" points="335.8,700.8 354.5,745 354.5,697" style="stroke-width:1.3"/>
<polyline class="l" points="342.5,697 354.5,697" stroke-dasharray="1.4 1" style="stroke-width:2"/>
<polygon class="l" points="335.6,700.3 339,698.3 339.5,702.8"/>
<polyline class="l" points="336.4,899.3 354.5,943.3 354.5,895.1" style="stroke-width:1.3"/>
<polyline class="l" points="342.5,895.1 354.5,895.1" stroke-dasharray="1.4 1" style="stroke-width:2"/>
<polygon class="l" points="335.6,898.8 339,896.8 339.5,901.3"/>
<!-- ship1c -->
<rect class="w" x="324.3" y="911.7" width="3.1" height="58.3"/>
<polygon class="w" points="321.2,911.7 326.4,911.7 324.3,937 317.6,939.5"/>
<path class="w" d="M327.4,913.2 L335.5,913.2 Q337.7,913.5 337.7,916 L337.7,951.9 L329.4,948.8 L327.4,940 Z"/>
<rect class="l" x="337.7" y="921" width="3.9" height="28.8"/>
<rect class="w" x="330.5" y="950" width="2" height="31.8"/>
<polyline class="l" points="321.2,912.2 288.2,961.2" style="stroke-width:1.8"/>
<path class="w" d="M304,913.7 Q300,933 303.5,952.9 Q307.5,933 304,913.7 Z"/>
<polyline class="l" points="286.1,923.4 298.5,923.4" style="stroke-width:1.5"/>
<path class="t" d="M289,924 L289,930 Q286,932 286.5,936 Q287,940 289,938 L290,931 L296,931 L296,924 M296,927 L301,927 L301,937 L296,937 Z M298,931 L303,931 L303,938 L298,938"/>
<path class="t" d="M290.5,938 q-2,3 0,5 q2,3 -0.5,6 q-1,2 0.5,4 M296,938 q2,5 -1,10 q-1,3 -3,4 M299.5,938 L297,948 L290,953 Q284,955 285,958 Q289,961 296,956 L299.5,950"/>
<path class="l" d="M285,953 Q289,950 295,952"/>
<rect class="k" x="290" y="950.5" width="2.5" height="5"/>
<polygon class="t" points="307.5,954 309.5,950 311.5,954"/>
<polyline class="l" points="133.4,961.7 212,947.8"/>
<polyline class="l" points="133.4,961.7 212,967.1" style="stroke-width:1.4"/>
<polyline class="l" points="212,947.8 214.4,947.8 214.4,967.1 212,967.1 212,947.8"/>
<polyline class="l" points="174.9,961.2 212,950.2"/>
<polyline class="l" points="153.2,960 212,953"/>
<polyline class="t" points="133.4,961.3 214.4,961.3"/>
<polyline class="l" points="214.4,957.1 307.8,957.1"/>
<polyline class="t" points="214.4,958.8 307.8,958.8"/>
<rect class="l" x="214.4" y="957.1" width="18.5" height="5.4"/>
<polyline class="t" points="232.9,961.2 301.6,961.2"/>
<polyline class="l" points="169.5,980.3 278.6,956.5"/>
<polyline class="l" points="169.5,980.3 187.3,963.3"/>
<polyline class="l" points="216.7,961.7 306.4,1032.2"/>
<polygon class="w" points="175.7,979.5 188.8,976.4 192.7,995.8 179.5,998.9" style="fill:#e4e4e4;stroke:#555"/>
<polyline class="l" points="186.6,977 190.5,996.3" style="stroke:#777;stroke-width:2"/>
<polygon class="k" points="181.45,992.89 183.52,991.67 183.2,989.3 185,990.89 187.16,989.85 186.21,992.05 187.86,993.79 185.47,993.56 184.33,995.67 183.81,993.33" style="fill:#666"/>
<circle class="l" cx="182.8" cy="984.3" r="1.7" style="stroke:#666;stroke-width:1.1"/>
<polyline class="l" points="181,982.8 185,986" style="stroke:#666;stroke-width:1.1"/>
<path class="w" d="M264.6,965.5 Q260,990 274.8,1006.6 L274.8,964.8 Z"/>
<path class="k" d="M265.6,965.3 L274.3,964.8 L274.3,1004.5 Z" style="fill:#555"/>
<path class="l" d="M266.5,978 L269.5,976.8 M268,988.5 L271.8,986.3 M270.5,998 L273.5,995.2" style="stroke:#fff;stroke-width:.9;fill:none"/>
<polygon class="w" points="274.8,962.6 301.1,960.4 301.1,1008.7 299.5,1007.6 274.8,1007.6"/>
<polyline class="t" points="277,962.6 277,1007.6"/>
<polyline class="l" points="280.4,962.4 280.4,1007.6"/>
<polyline class="l" points="298.5,960.6 298.5,1007.6"/>
<path class="l" d="M301.1,960.4 Q318,958.5 327.4,954.5"/>
<polyline class="l" points="301.1,1008.7 327.4,1016.4"/>
<polyline class="l" points="288.2,970 327.4,970"/>
<polyline class="l" points="288.2,973.6 327.4,973.6"/>
<circle class="w" cx="281" cy="977.7" r="2.5"/>
<circle class="w" cx="321.2" cy="972.3" r="1.3"/>
<polyline class="l" points="287.1,956 287.1,983.4"/>
<polyline class="l" points="288.7,956 288.7,983.4"/>
<polyline class="l" points="287.1,983.4 291,983.4"/>
<polyline class="t" points="288.7,978 291.5,978"/>
<polyline class="l" points="327.4,950 327.4,1070.8 341.6,1070.8"/>
<polyline class="l" points="329.4,949.8 329.4,1005"/>
<circle class="p" cx="331.4" cy="981.3" r="1.1"/>
<circle class="p" cx="331.4" cy="993.2" r="1.1"/>
<circle class="p" cx="331.4" cy="1004.3" r="1.1"/>
<polyline class="l" points="333.5,977.2 341.6,977.2"/>
<polyline class="l" points="333.5,977.2 333.5,995 337.4,999.6 339.7,1000.4 339.7,1016.7"/>
<path class="w" d="M329.6,1005.8 Q326.5,1040 329.6,1069.3 L337.5,1069.3 Q340.2,1065 340.2,1058 L340.2,1012 L333,1008 Z"/>
<path class="t" d="M333,1008 Q331,1040 334,1069"/>
<polyline class="l" points="336,1030.6 340.2,1030.6" style="stroke-width:1.4"/>
<polyline class="l" points="336,1043.8 340.2,1043.8" style="stroke-width:1.4"/>
<polyline class="l" points="336,1059.2 340.2,1059.2" style="stroke-width:1.4"/>
<circle class="k" cx="338" cy="1015.5" r="1.3"/>
<polyline class="l" points="337,1000 338,1015"/>
<polygon class="w" points="306.4,1021.3 314.2,1021.3 314.2,1035.2 308.5,1035.2 306.4,1030"/>
<rect class="l" x="314.2" y="1028.3" width="13.2" height="41"/>
<polyline class="l" points="314.2,1036.8 327.4,1036.8"/>
<polyline class="l" points="314.2,1056.9 327.4,1056.9"/>
<polyline class="l" points="315.4,1038 315.4,1055" stroke-dasharray="1.6 1.2" style="stroke-width:1.8"/>
<polygon class="w" points="285.5,1037 285.5,1024.4 299.5,1024.4 301,1026 301,1045.3 292.5,1045.3 287,1037"/>
<polyline class="t" points="284.3,1034 285.5,1034"/>
<circle class="p" cx="292.3" cy="1030" r="1.1"/>
<circle class="p" cx="295.8" cy="1041.5" r="1.1"/>
<rect class="l" x="293" y="1034.2" width="6" height="2.6"/>
<circle class="w" cx="308" cy="1046" r="2.7"/>
<rect class="t" x="311" y="1042" width="3.2" height="8"/>
<path class="w" d="M297.9,1053.8 L315,1053.8 L315,1068.5 L297.9,1068.5 Z"/>
<path class="w" d="M297.9,1053.8 Q291.7,1055 291.7,1061.2 Q291.7,1067.5 297.9,1068.5"/>
<polyline class="t" points="294.5,1055 294.5,1067.5"/>
<polyline class="t" points="296.3,1054.2 296.3,1068"/>
<polyline class="l" points="300.5,1053.8 300.5,1068.5" style="stroke:#666;stroke-width:1.6"/>
<polygon class="w" points="328.9,1081.7 339.7,1081.7 339.7,1085 337.4,1085 337.4,1154.1 322.7,1151.8 318.8,1110 318.5,1098 321.1,1084.2 328.9,1083.6"/>
<rect class="l" x="318.8" y="1094.8" width="6.2" height="15.5"/>
<path class="w" d="M340.5,1091.7 L336,1091.7 Q332.7,1093 332.7,1098 L332.7,1106 L335,1108 L340.5,1108"/>
<polyline class="t" points="332.7,1097 331.7,1097 331.7,1102 332.7,1102"/>
<polyline class="t" points="337,1108 337,1118"/>
<polyline class="l" points="337.4,1154.1 354,1156.4"/>
<rect class="l" x="338.2" y="1119.3" width="15.8" height="37.1"/>
<polyline class="l" points="338.5,1120.3 354,1120.3" style="stroke-width:1.8"/>
<polyline class="l" points="349.8,1123.2 338.9,1142.5" style="stroke-width:1.5"/>
<polyline class="l" points="338.9,1142.5 345,1142.5"/>
<path class="l" d="M350,1123 Q346,1140 348.5,1153 L352.5,1152 L352.5,1124 Z"/>
<polygon class="w" points="329.2,1154.1 335.8,1154.1 334.2,1168.8 330.7,1168.8"/>
<rect class="w" x="330.9" y="1168.8" width="3.1" height="53.4"/>
<polyline class="t" points="330.9,1188 334,1188"/>
<polygon class="w" points="346,1163.4 354,1163.4 354,1183.5 349.5,1183.5 346,1179.5"/>
<polyline class="l" points="346,1168.4 354,1168.4"/>
<polyline class="l" points="350.6,1183.5 350.6,1202.6" style="stroke-width:1.8"/>
<polygon class="w" points="346,1300.8 354,1300.8 354,1323.3 349.5,1323.3 346,1319.3"/>
<polyline class="l" points="346,1305.8 354,1305.8"/>
<polyline class="l" points="350.6,1323.3 350.6,1340.3" style="stroke-width:1.8"/>
<polyline class="l" points="354,1216 338.9,1235.4"/>
<polyline class="l" points="338.9,1262.5 354,1289.5"/>
<path class="w" d="M352.9,1228 L346,1224.5 Q338.9,1232 338.9,1238 L338.9,1259 Q339.5,1266 346,1271.7 L352.9,1268.5 Z"/>
<path class="t" d="M349.5,1226.5 Q351.5,1248 349.5,1270"/>
<path class="l" d="M340.5,1236 Q345,1230 349.5,1232 M340.5,1261 Q345,1267 349.5,1264"/>
<polyline class="l" points="352.9,1230.4 364.5,1230.4" style="stroke-width:1.4"/>
<polyline class="l" points="352.9,1267.6 364.5,1267.6" style="stroke-width:1.4"/>
<!-- plan -->
<path class="l" d="M542.4,186.2 L540.6,186.7 L539.4,187.2 L538.7,187.7 L538.0,188.2 L537.5,188.7 L537.0,189.2 L536.5,189.7 L536.0,190.2 L535.6,190.7 L535.2,191.2 L534.8,191.7 L534.5,192.2 L534.1,192.7 L533.7,193.2 L533.4,193.7 L533.1,194.2 L532.8,194.7 L532.5,195.2 L532.2,195.7 L531.9,196.2 L531.7,196.7 L531.4,197.2 L531.2,197.7 L531.0,198.2 L530.7,198.7 L530.5,199.2 L530.3,199.7 L530.2,200.0 L528.8,204.0 L527.6,208.0 L526.6,212.0 L525.7,216.0 L524.9,220.0 L524.3,224.0 L523.7,228.0 L523.2,232.0 L522.5,236.0 L521.7,240.0 L520.8,244.0 L519.9,248.0 L518.9,252.0 L517.9,256.0 L516.9,260.0 L515.9,264.0 L514.9,268.0 L513.9,272.0 L512.9,276.0 L511.9,280.0 L510.9,284.0 L510.0,288.0 L509.2,292.0 L508.3,296.0 L507.5,300.0 L506.8,304.0 L506.0,308.0 L505.2,312.0 L504.5,316.0 L503.7,320.0 L502.9,324.0 L502.1,328.0 L501.3,332.0 L500.5,336.0 L499.7,340.0 L498.9,344.0 L498.2,348.0 L497.4,352.0 L496.7,356.0 L496.0,360.0 L495.3,364.0 L494.6,368.0 L493.9,372.0 L493.3,376.0 L492.6,380.0 L491.9,384.0 L491.3,388.0 L490.5,392.0 L489.8,396.0 L489.0,400.0 L488.3,404.0 L487.5,408.0 L486.7,412.0 L486.0,416.0 L485.3,420.0 L484.6,424.0 L483.9,428.0 L483.3,432.0 L482.7,436.0 L482.1,440.0 L481.5,444.0 L480.9,448.0 L480.3,452.0 L479.8,456.0 L479.2,460.0 L478.6,464.0 L478.1,468.0 L477.5,472.0 L477.0,476.0 L476.4,480.0 L475.9,484.0 L475.4,488.0 L474.8,492.0 L474.4,496.0 L473.9,500.0 L473.4,504.0 L472.9,508.0 L472.4,512.0 L471.9,516.0 L471.4,520.0 L471.0,524.0 L470.5,528.0 L470.1,532.0 L469.7,536.0 L469.3,540.0 L468.9,544.0 L468.6,548.0 L468.2,552.0 L467.9,556.0 L467.6,560.0 L467.4,564.0 L467.1,568.0 L466.8,572.0 L466.6,576.0 L466.3,580.0 L466.1,584.0 L465.8,588.0 L465.6,592.0 L465.4,596.0 L465.2,600.0 L464.9,604.0 L464.7,608.0 L464.5,612.0 L464.3,616.0 L464.0,620.0 L463.8,624.0 L463.6,628.0 L463.4,632.0 L463.2,636.0 L462.9,640.0 L462.7,644.0 L462.5,648.0 L462.3,652.0 L462.1,656.0 L461.9,660.0 L461.7,664.0 L461.5,668.0 L461.3,672.0 L461.1,676.0 L461.0,680.0 L460.8,684.0 L460.6,688.0 L460.5,692.0 L460.3,696.0 L460.2,700.0 L460.1,704.0 L459.9,708.0 L459.8,712.0 L459.7,716.0 L459.6,720.0 L459.4,724.0 L459.3,728.0 L459.2,732.0 L459.1,736.0 L458.9,740.0 L458.8,744.0 L458.7,748.0 L458.6,752.0 L458.5,756.0 L458.4,760.0 L458.3,764.0 L458.2,768.0 L458.2,772.0 L458.1,776.0 L458.0,780.0 L458.0,784.0 L457.9,788.0 L457.9,792.0 L457.8,796.0 L457.8,800.0 L457.8,804.0 L457.8,808.0 L457.7,812.0 L457.7,816.0 L457.7,820.0 L457.7,824.0 L457.6,828.0 L457.6,832.0 L457.6,836.0 L457.6,840.0 L457.6,844.0 L457.6,848.0 L457.6,852.0 L457.6,856.0 L457.6,860.0 L457.6,864.0 L457.6,868.0 L457.6,872.0 L457.7,876.0 L457.7,880.0 L457.7,884.0 L457.7,888.0 L457.7,892.0 L457.8,896.0 L457.8,900.0 L457.8,904.0 L457.8,908.0 L457.9,912.0 L457.9,916.0 L457.9,920.0 L458.0,924.0 L458.0,928.0 L458.0,932.0 L458.1,936.0 L458.1,940.0 L458.1,944.0 L458.2,948.0 L458.2,952.0 L458.3,956.0 L458.3,960.0 L458.4,964.0 L458.4,968.0 L458.5,972.0 L458.6,976.0 L458.7,980.0 L458.7,984.0 L458.8,988.0 L458.9,992.0 L459.0,996.0 L459.1,1000.0 L459.2,1004.0 L459.4,1008.0 L459.5,1012.0 L459.6,1016.0 L459.7,1020.0 L459.8,1024.0 L460.0,1028.0 L460.1,1032.0 L460.2,1036.0 L460.4,1040.0 L460.5,1044.0 L460.6,1048.0 L460.8,1052.0 L460.9,1056.0 L461.1,1060.0 L461.3,1064.0 L461.4,1068.0 L461.6,1072.0 L461.8,1076.0 L462.1,1080.0 L462.3,1084.0 L462.5,1088.0 L462.7,1092.0 L463.0,1096.0 L463.2,1100.0 L463.4,1104.0 L463.7,1108.0 L463.9,1112.0 L464.2,1116.0 L464.5,1120.0 L464.7,1124.0 L465.0,1128.0 L465.3,1132.0 L465.6,1136.0 L465.9,1140.0 L466.3,1144.0 L466.6,1148.0 L467.0,1152.0 L467.4,1156.0 L467.8,1160.0 L468.3,1164.0 L468.8,1168.0 L469.3,1172.0 L469.8,1176.0 L470.4,1180.0 L470.9,1184.0 L471.4,1188.0 L472.0,1192.0 L472.5,1196.0 L473.0,1200.0 L473.5,1204.0 L474.1,1208.0 L474.6,1212.0 L475.1,1216.0 L475.7,1220.0 L476.3,1224.0 L476.8,1228.0 L477.4,1232.0 L478.0,1236.0 L478.7,1240.0 L479.4,1244.0 L480.0,1248.0 L480.8,1252.0 L481.6,1256.0 L482.5,1260.0 L483.4,1264.0 L484.4,1268.0 L485.4,1272.0 L486.3,1276.0 L487.3,1280.0 L488.2,1284.0 L489.1,1288.0 L489.9,1292.0 L490.7,1296.0 L491.5,1300.0 L492.2,1304.0 L492.9,1308.0 L493.7,1312.0 L494.4,1316.0 L495.2,1320.0 L496.0,1324.0 L496.8,1328.0 L497.5,1332.0 L498.3,1336.0 L499.1,1340.0 L499.9,1344.0 L500.7,1348.0 L501.5,1352.0 L502.3,1356.0 L503.2,1360.0 L504.0,1364.0 L504.9,1368.0 L505.7,1372.0 L506.6,1376.0 L507.4,1380.0 L508.2,1384.0 L508.9,1388.0 L509.6,1392.0 L510.3,1396.0 L511.1,1400.0 L511.9,1404.0 L512.7,1408.0 L513.7,1412.0 L514.7,1416.0 L515.9,1420.0 L517.1,1424.0 L518.5,1428.0 L520.0,1432.0 L521.7,1436.0 L523.6,1440.0 L523.9,1440.5 L524.1,1441.0 L524.4,1441.5 L524.7,1442.0 L524.9,1442.5 L525.2,1443.0 L525.5,1443.5 L525.8,1444.0 L526.1,1444.5 L526.4,1445.0 L526.7,1445.5 L527.1,1446.0 L527.4,1446.5 L527.7,1447.0 L528.1,1447.5 L528.4,1448.0 L528.8,1448.5 L529.1,1449.0 L529.5,1449.5 L529.9,1450.0 L530.3,1450.5 L530.7,1451.0 L531.1,1451.5 L531.5,1452.0 L531.9,1452.5 L532.3,1453.0 L532.8,1453.5 L533.2,1454.0 L533.6,1454.5 L534.0,1455.0 L534.5,1455.5 L534.9,1456.0 L535.3,1456.5 L535.8,1457.0 L536.3,1457.5 L536.8,1458.0 L537.3,1458.5 L537.9,1459.0 L538.5,1459.5 L539.3,1460.0 L540.2,1460.5 L541.5,1461.0 L543.3,1461.0 L544.6,1460.5 L545.5,1460.0 L546.3,1459.5 L546.9,1459.0 L547.5,1458.5 L548.0,1458.0 L548.5,1457.5 L549.0,1457.0 L549.5,1456.5 L549.9,1456.0 L550.3,1455.5 L550.8,1455.0 L551.2,1454.5 L551.6,1454.0 L552.0,1453.5 L552.5,1453.0 L552.9,1452.5 L553.3,1452.0 L553.7,1451.5 L554.1,1451.0 L554.5,1450.5 L554.9,1450.0 L555.3,1449.5 L555.7,1449.0 L556.0,1448.5 L556.4,1448.0 L556.7,1447.5 L557.1,1447.0 L557.4,1446.5 L557.7,1446.0 L558.1,1445.5 L558.4,1445.0 L558.7,1444.5 L559.0,1444.0 L559.3,1443.5 L559.6,1443.0 L559.9,1442.5 L560.1,1442.0 L560.4,1441.5 L560.7,1441.0 L560.9,1440.5 L561.2,1440.0 L563.1,1436.0 L564.8,1432.0 L566.3,1428.0 L567.7,1424.0 L568.9,1420.0 L570.1,1416.0 L571.1,1412.0 L572.1,1408.0 L572.9,1404.0 L573.7,1400.0 L574.5,1396.0 L575.2,1392.0 L575.9,1388.0 L576.6,1384.0 L577.4,1380.0 L578.2,1376.0 L579.1,1372.0 L579.9,1368.0 L580.8,1364.0 L581.6,1360.0 L582.5,1356.0 L583.3,1352.0 L584.1,1348.0 L584.9,1344.0 L585.7,1340.0 L586.5,1336.0 L587.3,1332.0 L588.0,1328.0 L588.8,1324.0 L589.6,1320.0 L590.4,1316.0 L591.1,1312.0 L591.9,1308.0 L592.6,1304.0 L593.3,1300.0 L594.1,1296.0 L594.9,1292.0 L595.7,1288.0 L596.6,1284.0 L597.5,1280.0 L598.5,1276.0 L599.4,1272.0 L600.4,1268.0 L601.4,1264.0 L602.3,1260.0 L603.2,1256.0 L604.0,1252.0 L604.8,1248.0 L605.4,1244.0 L606.1,1240.0 L606.8,1236.0 L607.4,1232.0 L608.0,1228.0 L608.5,1224.0 L609.1,1220.0 L609.7,1216.0 L610.2,1212.0 L610.7,1208.0 L611.3,1204.0 L611.8,1200.0 L612.3,1196.0 L612.8,1192.0 L613.4,1188.0 L613.9,1184.0 L614.4,1180.0 L615.0,1176.0 L615.5,1172.0 L616.0,1168.0 L616.5,1164.0 L617.0,1160.0 L617.4,1156.0 L617.8,1152.0 L618.2,1148.0 L618.5,1144.0 L618.9,1140.0 L619.2,1136.0 L619.5,1132.0 L619.8,1128.0 L620.1,1124.0 L620.3,1120.0 L620.6,1116.0 L620.9,1112.0 L621.1,1108.0 L621.4,1104.0 L621.6,1100.0 L621.8,1096.0 L622.1,1092.0 L622.3,1088.0 L622.5,1084.0 L622.7,1080.0 L623.0,1076.0 L623.2,1072.0 L623.4,1068.0 L623.5,1064.0 L623.7,1060.0 L623.9,1056.0 L624.0,1052.0 L624.2,1048.0 L624.3,1044.0 L624.4,1040.0 L624.6,1036.0 L624.7,1032.0 L624.8,1028.0 L625.0,1024.0 L625.1,1020.0 L625.2,1016.0 L625.3,1012.0 L625.4,1008.0 L625.6,1004.0 L625.7,1000.0 L625.8,996.0 L625.9,992.0 L626.0,988.0 L626.1,984.0 L626.1,980.0 L626.2,976.0 L626.3,972.0 L626.4,968.0 L626.4,964.0 L626.5,960.0 L626.5,956.0 L626.6,952.0 L626.6,948.0 L626.7,944.0 L626.7,940.0 L626.7,936.0 L626.8,932.0 L626.8,928.0 L626.8,924.0 L626.9,920.0 L626.9,916.0 L626.9,912.0 L627.0,908.0 L627.0,904.0 L627.0,900.0 L627.0,896.0 L627.1,892.0 L627.1,888.0 L627.1,884.0 L627.1,880.0 L627.1,876.0 L627.2,872.0 L627.2,868.0 L627.2,864.0 L627.2,860.0 L627.2,856.0 L627.2,852.0 L627.2,848.0 L627.2,844.0 L627.2,840.0 L627.2,836.0 L627.2,832.0 L627.2,828.0 L627.1,824.0 L627.1,820.0 L627.1,816.0 L627.1,812.0 L627.0,808.0 L627.0,804.0 L627.0,800.0 L627.0,796.0 L626.9,792.0 L626.9,788.0 L626.8,784.0 L626.8,780.0 L626.7,776.0 L626.6,772.0 L626.6,768.0 L626.5,764.0 L626.4,760.0 L626.3,756.0 L626.2,752.0 L626.1,748.0 L626.0,744.0 L625.9,740.0 L625.7,736.0 L625.6,732.0 L625.5,728.0 L625.4,724.0 L625.2,720.0 L625.1,716.0 L625.0,712.0 L624.9,708.0 L624.7,704.0 L624.6,700.0 L624.5,696.0 L624.3,692.0 L624.2,688.0 L624.0,684.0 L623.8,680.0 L623.7,676.0 L623.5,672.0 L623.3,668.0 L623.1,664.0 L622.9,660.0 L622.7,656.0 L622.5,652.0 L622.3,648.0 L622.1,644.0 L621.9,640.0 L621.6,636.0 L621.4,632.0 L621.2,628.0 L621.0,624.0 L620.8,620.0 L620.5,616.0 L620.3,612.0 L620.1,608.0 L619.9,604.0 L619.6,600.0 L619.4,596.0 L619.2,592.0 L619.0,588.0 L618.7,584.0 L618.5,580.0 L618.2,576.0 L618.0,572.0 L617.7,568.0 L617.4,564.0 L617.2,560.0 L616.9,556.0 L616.6,552.0 L616.2,548.0 L615.9,544.0 L615.5,540.0 L615.1,536.0 L614.7,532.0 L614.3,528.0 L613.8,524.0 L613.4,520.0 L612.9,516.0 L612.4,512.0 L611.9,508.0 L611.4,504.0 L610.9,500.0 L610.4,496.0 L610.0,492.0 L609.4,488.0 L608.9,484.0 L608.4,480.0 L607.8,476.0 L607.3,472.0 L606.7,468.0 L606.2,464.0 L605.6,460.0 L605.0,456.0 L604.5,452.0 L603.9,448.0 L603.3,444.0 L602.7,440.0 L602.1,436.0 L601.5,432.0 L600.9,428.0 L600.2,424.0 L599.5,420.0 L598.8,416.0 L598.1,412.0 L597.3,408.0 L596.5,404.0 L595.8,400.0 L595.0,396.0 L594.3,392.0 L593.5,388.0 L592.9,384.0 L592.2,380.0 L591.5,376.0 L590.9,372.0 L590.2,368.0 L589.5,364.0 L588.8,360.0 L588.1,356.0 L587.4,352.0 L586.6,348.0 L585.9,344.0 L585.1,340.0 L584.3,336.0 L583.5,332.0 L582.7,328.0 L581.9,324.0 L581.1,320.0 L580.3,316.0 L579.6,312.0 L578.8,308.0 L578.0,304.0 L577.3,300.0 L576.5,296.0 L575.6,292.0 L574.8,288.0 L573.9,284.0 L572.9,280.0 L571.9,276.0 L570.9,272.0 L569.9,268.0 L568.9,264.0 L567.9,260.0 L566.9,256.0 L565.9,252.0 L564.9,248.0 L564.0,244.0 L563.1,240.0 L562.3,236.0 L561.6,232.0 L561.1,228.0 L560.5,224.0 L559.9,220.0 L559.1,216.0 L558.2,212.0 L557.2,208.0 L556.0,204.0 L554.6,200.0 L554.5,199.7 L554.3,199.2 L554.1,198.7 L553.8,198.2 L553.6,197.7 L553.4,197.2 L553.1,196.7 L552.9,196.2 L552.6,195.7 L552.3,195.2 L552.0,194.7 L551.7,194.2 L551.4,193.7 L551.1,193.2 L550.7,192.7 L550.3,192.2 L550.0,191.7 L549.6,191.2 L549.2,190.7 L548.8,190.2 L548.3,189.7 L547.8,189.2 L547.3,188.7 L546.8,188.2 L546.1,187.7 L545.4,187.2 L544.2,186.7 L542.4,186.2 Z"/>
<polyline class="l" points="542.4,1456 542.4,1471.8"/>
<polyline class="t" points="539.4,1456 542.4,1459 545.4,1456"/>
<polygon class="w" points="527.1,434.1 530.7,434.1 530.7,468.4 531.2,468.4 531.2,488 531.9,502.6 525.9,502.6 526.6,488 526.6,468.4 527.1,468.4"/>
<polyline class="t" points="526.6,468.4 531.2,468.4"/>
<polyline class="t" points="526.6,488 531.2,488"/>
<polygon class="w" points="540.6,434.1 544.2,434.1 544.2,468.4 544.7,468.4 544.7,488 545.4,502.6 539.4,502.6 540.1,488 540.1,468.4 540.6,468.4"/>
<polyline class="t" points="540.1,468.4 544.7,468.4"/>
<polyline class="t" points="540.1,488 544.7,488"/>
<polygon class="w" points="554.1,434.1 557.7,434.1 557.7,468.4 558.2,468.4 558.2,488 558.9,502.6 552.9,502.6 553.6,488 553.6,468.4 554.1,468.4"/>
<polyline class="t" points="553.6,468.4 558.2,468.4"/>
<polyline class="t" points="553.6,488 558.2,488"/>
<path class="w" d="M519.0,501.6 L565.8,501.6 Q567.8,501.6 568.4,504.6 L572.5,530.5 L572.5,568.1 Q572.5,573.8000000000001 566.4,573.8000000000001 L518.4,573.8000000000001 Q512.3,573.8000000000001 512.3,568.1 L512.3,530.5 L516.4,504.6 Q517.0,501.6 519.0,501.6 Z"/>
<path class="l" d="M523.4,505.20000000000005 L561.4,505.20000000000005 Q563.4,505.20000000000005 563.6999999999999,507.6 L566.0,530.5 L566.0,567.6 Q566.0,573.8000000000001 559.4,573.8000000000001 L525.4,573.8000000000001 Q518.8,573.8000000000001 518.8,567.6 L518.8,530.5 L521.1,507.6 Q521.4,505.20000000000005 523.4,505.20000000000005 Z"/>
<polygon class="w" points="505.2,546.8 519.9,546.8 519.9,547.6 564.9,547.6 564.9,546.8 579.9,546.8 579.9,562.4 564.9,562.4 564.9,561.6 519.9,561.6 519.9,562.4 505.2,562.4"/>
<circle class="l" cx="523.5" cy="524.3" r="2"/>
<circle class="l" cx="561.4" cy="530.5" r="2"/>
<rect class="t" x="534.1" y="573.8" width="15.6" height="2.4"/>
<circle class="w" cx="593" cy="489.3" r="10.4"/>
<rect class="l" x="588.1" y="485.5" width="9.8" height="7.6"/>
<rect class="k" x="590" y="479.9" width="6" height="5.6" style="fill:#333"/>
<polyline class="l" points="591.8,480.3 591.8,485.1" style="stroke:#fff;stroke-width:.7"/>
<polyline class="l" points="594.2,480.3 594.2,485.1" style="stroke:#fff;stroke-width:.7"/>
<polyline class="t" points="588.1,485.5 585.5,482.3"/>
<polyline class="t" points="597.9,485.5 600.5,482.3"/>
<circle class="w" cx="602.3" cy="582" r="10.4"/>
<rect class="l" x="597.4" y="578.2" width="9.8" height="7.6"/>
<rect class="k" x="599.3" y="572.6" width="6" height="5.6" style="fill:#333"/>
<polyline class="l" points="601.1,573 601.1,577.8" style="stroke:#fff;stroke-width:.7"/>
<polyline class="l" points="603.5,573 603.5,577.8" style="stroke:#fff;stroke-width:.7"/>
<polyline class="t" points="597.4,578.2 594.8,575"/>
<polyline class="t" points="607.2,578.2 609.8,575"/>
<circle class="w" cx="491.8" cy="489.3" r="10.4"/>
<rect class="l" x="486.9" y="485.5" width="9.8" height="7.6"/>
<rect class="k" x="488.8" y="479.9" width="6" height="5.6" style="fill:#333"/>
<polyline class="l" points="490.6,480.3 490.6,485.1" style="stroke:#fff;stroke-width:.7"/>
<polyline class="l" points="493,480.3 493,485.1" style="stroke:#fff;stroke-width:.7"/>
<polyline class="t" points="486.9,485.5 484.3,482.3"/>
<polyline class="t" points="496.7,485.5 499.3,482.3"/>
<circle class="w" cx="482.5" cy="582" r="10.4"/>
<rect class="l" x="477.6" y="578.2" width="9.8" height="7.6"/>
<rect class="k" x="479.5" y="572.6" width="6" height="5.6" style="fill:#333"/>
<polyline class="l" points="481.3,573 481.3,577.8" style="stroke:#fff;stroke-width:.7"/>
<polyline class="l" points="483.7,573 483.7,577.8" style="stroke:#fff;stroke-width:.7"/>
<polyline class="t" points="477.6,578.2 475,575"/>
<polyline class="t" points="487.4,578.2 490,575"/>
<polygon class="w" points="527.1,543.1 530.7,543.1 530.7,577.4 531.2,577.4 531.2,597 531.9,611.6 525.9,611.6 526.6,597 526.6,577.4 527.1,577.4"/>
<polyline class="t" points="526.6,577.4 531.2,577.4"/>
<polyline class="t" points="526.6,597 531.2,597"/>
<polygon class="w" points="540.6,543.1 544.2,543.1 544.2,577.4 544.7,577.4 544.7,597 545.4,611.6 539.4,611.6 540.1,597 540.1,577.4 540.6,577.4"/>
<polyline class="t" points="540.1,577.4 544.7,577.4"/>
<polyline class="t" points="540.1,597 544.7,597"/>
<polygon class="w" points="554.1,543.1 557.7,543.1 557.7,577.4 558.2,577.4 558.2,597 558.9,611.6 552.9,611.6 553.6,597 553.6,577.4 554.1,577.4"/>
<polyline class="t" points="553.6,577.4 558.2,577.4"/>
<polyline class="t" points="553.6,597 558.2,597"/>
<path class="w" d="M519.0,610.6 L565.8,610.6 Q567.8,610.6 568.4,613.6 L572.5,639.5 L572.5,677.1 Q572.5,682.8000000000001 566.4,682.8000000000001 L518.4,682.8000000000001 Q512.3,682.8000000000001 512.3,677.1 L512.3,639.5 L516.4,613.6 Q517.0,610.6 519.0,610.6 Z"/>
<path class="l" d="M523.4,614.2 L561.4,614.2 Q563.4,614.2 563.6999999999999,616.6 L566.0,639.5 L566.0,676.6 Q566.0,682.8000000000001 559.4,682.8000000000001 L525.4,682.8000000000001 Q518.8,682.8000000000001 518.8,676.6 L518.8,639.5 L521.1,616.6 Q521.4,614.2 523.4,614.2 Z"/>
<polygon class="w" points="505.2,655.8 519.9,655.8 519.9,656.6 564.9,656.6 564.9,655.8 579.9,655.8 579.9,671.4 564.9,671.4 564.9,670.6 519.9,670.6 519.9,671.4 505.2,671.4"/>
<circle class="l" cx="523.5" cy="633.3" r="2"/>
<circle class="l" cx="561.4" cy="639.5" r="2"/>
<rect class="t" x="534.1" y="682.8" width="15.6" height="2.4"/>
<path class="l" d="M520.1,243.1 L525.3,334.1 M524.3,242.9 L529.5,333.9"/>
<polyline class="l" points="522.2,243 527.4,334" stroke-dasharray="1.5 1.1" style="stroke-width:1.3"/>
<path class="l" d="M529.6,298.5 L529.1,334.0 M533.8,298.5 L533.3,334.0"/>
<polyline class="l" points="531.7,298.5 531.2,334" stroke-dasharray="1.5 1.1" style="stroke-width:1.3"/>
<path class="l" d="M529.6,298.5 A2.1,2.1 0 0 1 533.8,298.5"/>
<path class="l" d="M561.1,242.9 L555.1,333.9 M565.3,243.1 L559.3,334.1"/>
<polyline class="l" points="563.2,243 557.2,334" stroke-dasharray="1.5 1.1" style="stroke-width:1.3"/>
<path class="l" d="M541.4,299.6 L552.2,334.6 M545.4,298.4 L556.2,333.4"/>
<polyline class="l" points="543.4,299 554.2,334" stroke-dasharray="1.5 1.1" style="stroke-width:1.3"/>
<path class="l" d="M551.3,298.6 L552.8,334.1 M555.5,298.4 L557.0,333.9"/>
<polyline class="l" points="553.4,298.5 554.9,334" stroke-dasharray="1.5 1.1" style="stroke-width:1.3"/>
<path class="l" d="M569.1,277.5 L556.7,333.5 M573.3,278.5 L560.9,334.5"/>
<polyline class="l" points="571.2,278 558.8,334" stroke-dasharray="1.5 1.1" style="stroke-width:1.3"/>
<path class="l" d="M541.5,299.8 A2.1,2.1 0 0 1 545.4,298.4 M551.3,298.5 A2.1,2.1 0 0 1 555.5,298.5"/>
<circle class="w" cx="528.9" cy="336.3" r="3.7"/>
<circle class="l" cx="528.9" cy="336.3" r="1.9"/>
<circle class="w" cx="555.9" cy="336.3" r="3.7"/>
<circle class="l" cx="555.9" cy="336.3" r="1.9"/>
<circle class="l" cx="567.6" cy="342.9" r="4"/>
<circle class="l" cx="528.4" cy="377.7" r="5.2"/>
<circle class="l" cx="528.4" cy="377.7" r="2.6"/>
<circle class="l" cx="556.5" cy="377.7" r="5.2"/>
<circle class="l" cx="556.5" cy="377.7" r="2.6"/>
<path class="w" d="M522.5,235.5 l-3,1 l-1.5,4 l2,1 l-3.5,7 l3.5,2 l3.5,-9 Z"/>
<circle class="w" cx="521.3" cy="237" r="1.6"/>
<path class="w" d="M562.3,235.5 l3,1 l1.5,4 l-2,1 l3.5,7 l-3.5,2 l-3.5,-9 Z"/>
<circle class="w" cx="563.5" cy="237" r="1.6"/>
<path class="w" d="M571.3,264.5 l3,1 l1.5,4 l-2,1 l3.5,7 l-3.5,2 l-3.5,-9 Z"/>
<circle class="w" cx="572.5" cy="266" r="1.6"/>
<path class="t" d="M519.5,278 L524.5,268 L529.5,278 M524.5,262 L524.5,275"/>
<path class="t" d="M555.5,278 L560.5,268 L565.5,278 M560.5,262 L560.5,275"/>
<path class="l" d="M467.70000000000005,635.1 Q473.1,646.265 471.3,667 L464.1,667 Q462.3,646.265 467.70000000000005,635.1 Z"/>
<path class="l" d="M617.1,635.1 Q622.5,646.265 620.7,667 L613.5,667 Q611.7,646.265 617.1,635.1 Z"/>
<!-- planb -->
<path class="l" d="M525.1999999999999,714.4 Q525.1999999999999,693.9 542.4,693.9 Q559.6,693.9 559.6,714.4"/>
<polyline class="l" points="521.9,714.4 525.2,714.4"/>
<polyline class="l" points="559.6,714.4 562.9,714.4"/>
<polyline class="l" points="524.3,714.4 524.3,764"/>
<polyline class="l" points="561.1,714.4 561.1,764"/>
<polyline class="t" points="525.9,716 525.9,764"/>
<polyline class="t" points="558.9,716 558.9,764"/>
<circle class="l" cx="542.4" cy="699.7" r="2.1"/>
<rect class="w" x="521.1" y="721.7" width="43.3" height="3.3"/>
<rect class="w" x="521.1" y="733.2" width="43.3" height="2.4"/>
<rect class="w" x="535.8" y="718.9" width="13" height="18.8" rx="2"/>
<circle class="l" cx="542.4" cy="729.1" r="2.1"/>
<polyline class="l" points="562.9,714.4 573.5,734.8"/>
<circle class="w" cx="574.5" cy="743.8" r="10.4"/>
<rect class="l" x="569.6" y="740" width="9.8" height="7.6"/>
<rect class="k" x="571.5" y="734.4" width="6" height="5.6" style="fill:#333"/>
<polyline class="l" points="573.3,734.8 573.3,739.6" style="stroke:#fff;stroke-width:.7"/>
<polyline class="l" points="575.7,734.8 575.7,739.6" style="stroke:#fff;stroke-width:.7"/>
<polyline class="t" points="569.6,740 567,736.8"/>
<polyline class="t" points="579.4,740 582,736.8"/>
<polyline class="l" points="574.4,754.4 574.4,831.7"/>
<polyline class="t" points="573,754.4 573,831.7"/>
<polyline class="l" points="521.9,714.4 511.3,734.8"/>
<circle class="w" cx="510.3" cy="743.8" r="10.4"/>
<rect class="l" x="505.4" y="740" width="9.8" height="7.6"/>
<rect class="k" x="507.3" y="734.4" width="6" height="5.6" style="fill:#333"/>
<polyline class="l" points="509.1,734.8 509.1,739.6" style="stroke:#fff;stroke-width:.7"/>
<polyline class="l" points="511.5,734.8 511.5,739.6" style="stroke:#fff;stroke-width:.7"/>
<polyline class="t" points="505.4,740 502.8,736.8"/>
<polyline class="t" points="515.2,740 517.8,736.8"/>
<polyline class="l" points="510.4,754.4 510.4,831.7"/>
<polyline class="t" points="511.8,754.4 511.8,831.7"/>
<path class="l" d="M521.4,770 Q526.4,752 542.4,747.9 Q558.4,752 563.4,770"/>
<path class="l" d="M524.9,770 Q529.4,755 542.4,751.5 Q555.4,755 559.9,770"/>
<path class="t" d="M528.4,769 Q532.4,758 542.4,755 Q552.4,758 556.4,769"/>
<polyline class="t" points="531.9,755.5 552.9,755.5"/>
<polyline class="t" points="531.9,758.5 552.9,758.5"/>
<polyline class="t" points="531.9,761.5 552.9,761.5"/>
<polygon class="l" points="521.9,780 533.3,798.5 551.3,798.5 562.9,780"/>
<polygon class="l" points="524.9,781 534.8,796.3 549.8,796.3 559.9,781"/>
<polyline class="l" points="506.4,769.1 578.2,769.1"/>
<polyline class="l" points="506.4,780.5 578.2,780.5"/>
<polyline class="t" points="506.4,770.8 578.2,770.8"/>
<polyline class="t" points="506.4,778.8 578.2,778.8"/>
<rect class="w" x="535" y="765" width="13.8" height="18.8" rx="2"/>
<circle class="l" cx="542.4" cy="774.8" r="2.1"/>
<path class="t" d="M528.9,768 Q526.9,775 528.9,782"/>
<path class="t" d="M555.9,768 Q557.9,775 555.9,782"/>
<circle class="w" cx="569.2" cy="775.6" r="7"/>
<circle class="l" cx="569.2" cy="775.6" r="5.6"/>
<polyline class="l" points="576.2,775.6 578.9,775.6" style="stroke-width:1.6"/>
<polyline class="l" points="561.4,775.6 559.4,775.6" style="stroke-width:1.6"/>
<polyline class="l" points="564.6,783 580.9,815.7"/>
<polyline class="l" points="551.5,798.5 554.9,830"/>
<polyline class="l" points="551.5,798.5 538.4,798.5"/>
<polyline class="l" points="580.1,830 554.4,834.5"/>
<polyline class="t" points="578.4,832 554.4,836.2"/>
<rect class="w" x="574.4" y="831.7" width="6.9" height="117.6"/>
<path class="l" d="M581.3,889.7 A9.6,9.6 0 0 1 581.3,908.6"/>
<path class="l" d="M574.4,890.5 A9.6,9.6 0 0 0 574.4,907.8"/>
<polyline class="l" points="572.9,832 563.4,862"/>
<path class="l" d="M565.4,860.2 Q557.4,880 559.9,907.6 L569.4,907.6 Q572.4,880 565.4,860.2"/>
<path class="l" d="M542.6999999999999,934.6 L547.4,932 L553.4,934.6 Q559.9,900 556.4,872 Q546.4,885 542.6999999999999,905 Z"/>
<path class="l" d="M553.4,852 Q556.9,858 556.4,872 M553.9,845 Q561.4,860 563.4,872"/>
<rect class="w" x="554.4" y="866" width="5" height="5.5" rx="1.2"/>
<circle class="w" cx="515.6" cy="775.6" r="7"/>
<circle class="l" cx="515.6" cy="775.6" r="5.6"/>
<polyline class="l" points="508.6,775.6 505.9,775.6" style="stroke-width:1.6"/>
<polyline class="l" points="523.4,775.6 525.4,775.6" style="stroke-width:1.6"/>
<polyline class="l" points="520.2,783 503.9,815.7"/>
<polyline class="l" points="533.3,798.5 529.9,830"/>
<polyline class="l" points="533.3,798.5 546.4,798.5"/>
<polyline class="l" points="504.7,830 530.4,834.5"/>
<polyline class="t" points="506.4,832 530.4,836.2"/>
<rect class="w" x="503.5" y="831.7" width="6.9" height="117.6"/>
<path class="l" d="M503.5,889.7 A9.6,9.6 0 0 0 503.5,908.6"/>
<path class="l" d="M510.4,890.5 A9.6,9.6 0 0 1 510.4,907.8"/>
<polyline class="l" points="511.9,832 521.4,862"/>
<path class="l" d="M519.4,860.2 Q527.4,880 524.9,907.6 L515.4,907.6 Q512.4,880 519.4,860.2"/>
<path class="l" d="M542.1,934.6 L537.4,932 L531.4,934.6 Q524.9,900 528.4,872 Q538.4,885 542.1,905 Z"/>
<path class="l" d="M531.4,852 Q527.9,858 528.4,872 M530.9,845 Q523.4,860 521.4,872"/>
<rect class="w" x="525.4" y="866" width="5" height="5.5" rx="1.2"/>
<path class="l" d="M533.4,874 Q542.4,884 551.4,874"/>
<rect class="w" x="597.5" y="761.3" width="1.8" height="24"/>
<rect class="w" x="597" y="785.3" width="2.8" height="10.5"/>
<rect class="w" x="605.7" y="761.3" width="1.8" height="24"/>
<rect class="w" x="605.2" y="785.3" width="2.8" height="10.5"/>
<path class="w" d="M590.9,790.3 L614.1,790.3 Q616.1,790.3 616.3000000000001,792.8 Q618.1,810.15 616.3,827 Q616.1,830 613.9,830 L591.1,830 Q588.9,830 588.7,827 Q586.9,810.15 588.6999999999999,792.8 Q588.9,790.3 590.9,790.3 Z"/>
<rect class="l" x="597" y="790.3" width="2.8" height="5.5"/>
<rect class="l" x="605.2" y="790.3" width="2.8" height="5.5"/>
<circle class="l" cx="591.9" cy="806.9" r="2"/>
<circle class="l" cx="613.1" cy="806.9" r="2"/>
<rect class="w" x="597.5" y="823.1" width="1.8" height="24"/>
<rect class="w" x="597" y="847.1" width="2.8" height="10.5"/>
<rect class="w" x="605.7" y="823.1" width="1.8" height="24"/>
<rect class="w" x="605.2" y="847.1" width="2.8" height="10.5"/>
<path class="w" d="M590.9,852.1 L614.1,852.1 Q616.1,852.1 616.3000000000001,854.6 Q618.1,872.1 616.3,889.1 Q616.1,892.1 613.9,892.1 L591.1,892.1 Q588.9,892.1 588.7,889.1 Q586.9,872.1 588.6999999999999,854.6 Q588.9,852.1 590.9,852.1 Z"/>
<rect class="l" x="597" y="852.1" width="2.8" height="5.5"/>
<rect class="l" x="605.2" y="852.1" width="2.8" height="5.5"/>
<circle class="l" cx="591.9" cy="868.7" r="2"/>
<circle class="l" cx="613.1" cy="868.7" r="2"/>
<rect class="w" x="597.5" y="954.3" width="1.8" height="24"/>
<rect class="w" x="597" y="943.8" width="2.8" height="10.5"/>
<rect class="w" x="605.7" y="954.3" width="1.8" height="24"/>
<rect class="w" x="605.2" y="943.8" width="2.8" height="10.5"/>
<path class="w" d="M590.9,949.3 L614.1,949.3 Q616.1,949.3 616.3000000000001,946.8 Q618.1,929.7 616.3,913.1 Q616.1,910.1 613.9,910.1 L591.1,910.1 Q588.9,910.1 588.7,913.1 Q586.9,929.7 588.6999999999999,946.8 Q588.9,949.3 590.9,949.3 Z"/>
<rect class="l" x="597" y="943.8" width="2.8" height="5.5"/>
<rect class="l" x="605.2" y="943.8" width="2.8" height="5.5"/>
<circle class="l" cx="591.9" cy="932.7" r="2"/>
<circle class="l" cx="613.1" cy="932.7" r="2"/>
<rect class="w" x="580.1" y="814.5" width="13" height="15.5" rx="1"/>
<circle class="l" cx="586.6" cy="822.7" r="2.5"/>
<polyline class="l" points="593.1,817.5 596.4,817.5" style="stroke-width:1.5"/>
<polyline class="l" points="593.1,826.5 596.4,826.5" style="stroke-width:1.5"/>
<polyline class="l" points="580.1,817.5 577.4,817.5" style="stroke-width:1.5"/>
<polyline class="l" points="580.1,826.5 577.4,826.5" style="stroke-width:1.5"/>
<rect class="w" x="477.3" y="761.3" width="1.8" height="24"/>
<rect class="w" x="476.8" y="785.3" width="2.8" height="10.5"/>
<rect class="w" x="485.5" y="761.3" width="1.8" height="24"/>
<rect class="w" x="485" y="785.3" width="2.8" height="10.5"/>
<path class="w" d="M470.69999999999993,790.3 L493.9,790.3 Q495.9,790.3 496.09999999999997,792.8 Q497.8999999999999,810.15 496.0999999999999,827 Q495.8999999999999,830 493.69999999999993,830 L470.9,830 Q468.7,830 468.5,827 Q466.7,810.15 468.49999999999994,792.8 Q468.69999999999993,790.3 470.69999999999993,790.3 Z"/>
<rect class="l" x="476.8" y="790.3" width="2.8" height="5.5"/>
<rect class="l" x="485" y="790.3" width="2.8" height="5.5"/>
<circle class="l" cx="471.7" cy="806.9" r="2"/>
<circle class="l" cx="492.9" cy="806.9" r="2"/>
<rect class="w" x="477.3" y="823.1" width="1.8" height="24"/>
<rect class="w" x="476.8" y="847.1" width="2.8" height="10.5"/>
<rect class="w" x="485.5" y="823.1" width="1.8" height="24"/>
<rect class="w" x="485" y="847.1" width="2.8" height="10.5"/>
<path class="w" d="M470.69999999999993,852.1 L493.9,852.1 Q495.9,852.1 496.09999999999997,854.6 Q497.8999999999999,872.1 496.0999999999999,889.1 Q495.8999999999999,892.1 493.69999999999993,892.1 L470.9,892.1 Q468.7,892.1 468.5,889.1 Q466.7,872.1 468.49999999999994,854.6 Q468.69999999999993,852.1 470.69999999999993,852.1 Z"/>
<rect class="l" x="476.8" y="852.1" width="2.8" height="5.5"/>
<rect class="l" x="485" y="852.1" width="2.8" height="5.5"/>
<circle class="l" cx="471.7" cy="868.7" r="2"/>
<circle class="l" cx="492.9" cy="868.7" r="2"/>
<rect class="w" x="477.3" y="954.3" width="1.8" height="24"/>
<rect class="w" x="476.8" y="943.8" width="2.8" height="10.5"/>
<rect class="w" x="485.5" y="954.3" width="1.8" height="24"/>
<rect class="w" x="485" y="943.8" width="2.8" height="10.5"/>
<path class="w" d="M470.69999999999993,949.3 L493.9,949.3 Q495.9,949.3 496.09999999999997,946.8 Q497.8999999999999,929.7 496.0999999999999,913.1 Q495.8999999999999,910.1 493.69999999999993,910.1 L470.9,910.1 Q468.7,910.1 468.5,913.1 Q466.7,929.7 468.49999999999994,946.8 Q468.69999999999993,949.3 470.69999999999993,949.3 Z"/>
<rect class="l" x="476.8" y="943.8" width="2.8" height="5.5"/>
<rect class="l" x="485" y="943.8" width="2.8" height="5.5"/>
<circle class="l" cx="471.7" cy="932.7" r="2"/>
<circle class="l" cx="492.9" cy="932.7" r="2"/>
<rect class="w" x="491.7" y="814.5" width="13" height="15.5" rx="1"/>
<circle class="l" cx="498.2" cy="822.7" r="2.5"/>
<polyline class="l" points="491.7,817.5 488.4,817.5" style="stroke-width:1.5"/>
<polyline class="l" points="491.7,826.5 488.4,826.5" style="stroke-width:1.5"/>
<polyline class="l" points="504.7,817.5 507.4,817.5" style="stroke-width:1.5"/>
<polyline class="l" points="504.7,826.5 507.4,826.5" style="stroke-width:1.5"/>
<rect class="w" x="531" y="825.1" width="22.8" height="46.6" rx="11.4"/>
<rect class="l" x="532.6" y="826.7" width="19.6" height="43.4" rx="9.8"/>
<rect class="k" x="534.2" y="828.4" width="16.4" height="40.8" rx="8.2" style="fill:#5a5a5a;stroke:#000;stroke-width:1"/>
<polyline class="t" points="542.4,828.4 542.4,869.2"/>
<polyline class="t" points="534.2,848.4 550.6,848.4"/>
<polyline class="t" points="535.4,835.1 549.4,862.7"/>
<polyline class="t" points="549.4,835.1 535.4,862.7"/>
<rect class="w" x="517" y="877.4" width="3.2" height="90.7"/>
<path class="l" d="M510.6,949.3 L510.6,962 Q511,968.5 517,969.5"/>
<path class="w" d="M542.4,949.3 L568.4,970 Q571.4,973 569.4,976.5 L566.9,979.5 L517.9,979.5 L515.4,976.5 Q513.4,973 516.4,970 Z"/>
<path class="l" d="M542.4,951.8 L566.4,971 Q568.9,973.5 567.4,975.8 L565.4,977.8 L519.4,977.8 L517.4,975.8 Q515.9,973.5 518.4,971 Z"/>
<ellipse class="l" cx="542.4" cy="955.8" rx="2.6" ry="1.7"/>
<circle class="l" cx="563.9" cy="969.8" r="2.2"/>
<rect class="w" x="555.9" y="971.5" width="5.1" height="5.8" rx="1"/>
<rect class="k" x="554.6" y="981" width="3.3" height="6" style="fill:#444"/>
<circle class="l" cx="520.9" cy="969.8" r="2.2"/>
<rect class="w" x="523.8" y="971.5" width="5.1" height="5.8" rx="1"/>
<rect class="k" x="526.9" y="981" width="3.3" height="6" style="fill:#444"/>
<rect class="w" x="531" y="959.9" width="22.8" height="47.4" rx="11.4"/>
<rect class="l" x="532.6" y="961.5" width="19.6" height="44.2" rx="9.8"/>
<rect class="k" x="534.2" y="963.2" width="16.4" height="41.6" rx="8.2" style="fill:#5a5a5a;stroke:#000;stroke-width:1"/>
<polyline class="t" points="542.4,963.2 542.4,1004.8"/>
<polyline class="t" points="534.2,983.6 550.6,983.6"/>
<polyline class="t" points="535.4,969.9 549.4,998.3"/>
<polyline class="t" points="549.4,969.9 535.4,998.3"/>
<polyline class="l" points="520.2,979.5 520.2,1048.8 531.7,1066.5"/>
<polyline class="l" points="563.5,979.5 563.5,1048.8 552.9,1066.5"/>
<path class="l" d="M531.7,1066.5 Q542.4,1078 552.9,1066.5"/>
<path class="l" d="M532.9,1000 Q533.4,1015 542.4,1014.5 Q551.4,1015 551.9,1000"/>
<path class="t" d="M535.9,1000 Q536.4,1011.5 542.4,1011 Q548.4,1011.5 548.9,1000"/>
<path class="l" d="M529.1999999999999,1030 Q533.4,1019.1 542.4,1019.1 Q551.4,1019.1 555.6,1030"/>
<path class="t" d="M531.9,1030 Q535.4,1021.6 542.4,1021.6 Q549.4,1021.6 552.9,1030"/>
<rect class="w" x="520.2" y="1030" width="43.3" height="3.3"/>
<rect class="w" x="520.2" y="1042" width="43.3" height="2.7"/>
<polyline class="l" points="531,1033.3 521.5,1042"/>
<polyline class="l" points="553.8,1033.3 563,1042"/>
<rect class="w" x="535.8" y="1028.4" width="13" height="18.8" rx="2"/>
<circle class="l" cx="542.4" cy="1037" r="2.1"/>
<rect class="w" x="556.4" y="1045" width="3.6" height="6.5"/>
<rect class="w" x="524.8" y="1045" width="3.6" height="6.5"/>
<circle class="l" cx="542.4" cy="1063.2" r="10"/>
<circle class="t" cx="542.4" cy="1063.2" r="8.2"/>
<circle class="l" cx="542.4" cy="1063.2" r="5.6"/>
<polyline class="l" points="533.4,1061 535.9,1064.5"/>
<polyline class="l" points="551.4,1061 548.9,1064.5"/>
<path class="w" d="M571.0999999999999,983.2 A10.2,10.2 0 0 1 591.5,983.2 L591.5,992 L588.8,996.5 L573.8,996.5 L571.0999999999999,992 Z"/>
<polyline class="t" points="571.8,994.5 590.8,994.5"/>
<polyline class="l" points="577.4,994.5 577.4,1013" style="stroke-width:1.7"/>
<circle class="t" cx="577.4" cy="995.5" r="0.9"/>
<polyline class="l" points="585.2,994.5 585.2,1013" style="stroke-width:1.7"/>
<circle class="t" cx="585.2" cy="995.5" r="0.9"/>
<path class="w" d="M580.1999999999999,1170.1000000000001 A10.2,10.2 0 0 1 600.6,1170.1000000000001 L600.6,1178.9 L597.9,1183.4 L582.9,1183.4 L580.1999999999999,1178.9 Z"/>
<polyline class="t" points="580.9,1181.4 599.9,1181.4"/>
<polyline class="l" points="586.5,1181.4 586.5,1199.9" style="stroke-width:1.7"/>
<circle class="t" cx="586.5" cy="1182.4" r="0.9"/>
<polyline class="l" points="594.3,1181.4 594.3,1199.9" style="stroke-width:1.7"/>
<circle class="t" cx="594.3" cy="1182.4" r="0.9"/>
<path class="w" d="M550.0999999999999,1307.2 A10.2,10.2 0 0 1 570.5,1307.2 L570.5,1316 L567.8,1320.5 L552.8,1320.5 L550.0999999999999,1316 Z"/>
<polyline class="t" points="550.8,1318.5 569.8,1318.5"/>
<polyline class="l" points="556.4,1318.5 556.4,1337" style="stroke-width:1.7"/>
<circle class="t" cx="556.4" cy="1319.5" r="0.9"/>
<polyline class="l" points="564.2,1318.5 564.2,1337" style="stroke-width:1.7"/>
<circle class="t" cx="564.2" cy="1319.5" r="0.9"/>
<path class="l" d="M614.6999999999999,1006.3 Q624.9,1027.475 623.1,1066.8 L606.2999999999998,1066.8 Q604.4999999999999,1027.475 614.6999999999999,1006.3 Z"/>
<circle class="w" cx="602.4" cy="1105.2" r="10.4"/>
<rect class="l" x="597.5" y="1101.4" width="9.8" height="7.6"/>
<rect class="k" x="599.4" y="1109" width="6" height="5.6" style="fill:#333"/>
<polyline class="l" points="601.2,1114.2 601.2,1109.4" style="stroke:#fff;stroke-width:.7"/>
<polyline class="l" points="603.6,1114.2 603.6,1109.4" style="stroke:#fff;stroke-width:.7"/>
<polyline class="t" points="597.5,1109 594.9,1112.2"/>
<polyline class="t" points="607.3,1109 609.9,1112.2"/>
<circle class="w" cx="573" cy="1214.5" r="10.4"/>
<rect class="l" x="568.1" y="1210.7" width="9.8" height="7.6"/>
<rect class="k" x="570" y="1218.3" width="6" height="5.6" style="fill:#333"/>
<polyline class="l" points="571.8,1223.5 571.8,1218.7" style="stroke:#fff;stroke-width:.7"/>
<polyline class="l" points="574.2,1223.5 574.2,1218.7" style="stroke:#fff;stroke-width:.7"/>
<polyline class="t" points="568.1,1218.3 565.5,1221.5"/>
<polyline class="t" points="577.9,1218.3 580.5,1221.5"/>
<polyline class="l" points="619.4,1118.2 570.4,1144.4"/>
<path class="l" d="M618.4,1119 Q604.4,1135 607.4,1152.6 L613.4,1152.6"/>
<polyline class="l" points="615.4,1120.5 601.4,1140.3"/>
<path class="l" d="M602.1,1228.4 Q586.9,1249 594.9,1270 Q604.9,1249 602.1,1228.4 Z"/>
<path class="w" d="M493.3,983.2 A10.2,10.2 0 0 1 513.7,983.2 L513.7,992 L511.0,996.5 L496.0,996.5 L493.3,992 Z"/>
<polyline class="t" points="494,994.5 513,994.5"/>
<polyline class="l" points="499.6,994.5 499.6,1013" style="stroke-width:1.7"/>
<circle class="t" cx="499.6" cy="995.5" r="0.9"/>
<polyline class="l" points="507.4,994.5 507.4,1013" style="stroke-width:1.7"/>
<circle class="t" cx="507.4" cy="995.5" r="0.9"/>
<path class="w" d="M484.2,1170.1000000000001 A10.2,10.2 0 0 1 504.59999999999997,1170.1000000000001 L504.59999999999997,1178.9 L501.9,1183.4 L486.9,1183.4 L484.2,1178.9 Z"/>
<polyline class="t" points="484.9,1181.4 503.9,1181.4"/>
<polyline class="l" points="490.5,1181.4 490.5,1199.9" style="stroke-width:1.7"/>
<circle class="t" cx="490.5" cy="1182.4" r="0.9"/>
<polyline class="l" points="498.3,1181.4 498.3,1199.9" style="stroke-width:1.7"/>
<circle class="t" cx="498.3" cy="1182.4" r="0.9"/>
<path class="w" d="M514.3,1307.2 A10.2,10.2 0 0 1 534.7,1307.2 L534.7,1316 L532.0,1320.5 L517.0,1320.5 L514.3,1316 Z"/>
<polyline class="t" points="515,1318.5 534,1318.5"/>
<polyline class="l" points="520.6,1318.5 520.6,1337" style="stroke-width:1.7"/>
<circle class="t" cx="520.6" cy="1319.5" r="0.9"/>
<polyline class="l" points="528.4,1318.5 528.4,1337" style="stroke-width:1.7"/>
<circle class="t" cx="528.4" cy="1319.5" r="0.9"/>
<path class="l" d="M470.09999999999997,1006.3 Q480.29999999999995,1027.475 478.49999999999994,1066.8 L461.7,1066.8 Q459.9,1027.475 470.09999999999997,1006.3 Z"/>
<circle class="w" cx="482.4" cy="1105.2" r="10.4"/>
<rect class="l" x="477.5" y="1101.4" width="9.8" height="7.6"/>
<rect class="k" x="479.4" y="1109" width="6" height="5.6" style="fill:#333"/>
<polyline class="l" points="481.2,1114.2 481.2,1109.4" style="stroke:#fff;stroke-width:.7"/>
<polyline class="l" points="483.6,1114.2 483.6,1109.4" style="stroke:#fff;stroke-width:.7"/>
<polyline class="t" points="477.5,1109 474.9,1112.2"/>
<polyline class="t" points="487.3,1109 489.9,1112.2"/>
<circle class="w" cx="511.8" cy="1214.5" r="10.4"/>
<rect class="l" x="506.9" y="1210.7" width="9.8" height="7.6"/>
<rect class="k" x="508.8" y="1218.3" width="6" height="5.6" style="fill:#333"/>
<polyline class="l" points="510.6,1223.5 510.6,1218.7" style="stroke:#fff;stroke-width:.7"/>
<polyline class="l" points="513,1223.5 513,1218.7" style="stroke:#fff;stroke-width:.7"/>
<polyline class="t" points="506.9,1218.3 504.3,1221.5"/>
<polyline class="t" points="516.7,1218.3 519.3,1221.5"/>
<polyline class="l" points="465.4,1118.2 514.4,1144.4"/>
<path class="l" d="M466.4,1119 Q480.4,1135 477.4,1152.6 L471.4,1152.6"/>
<polyline class="l" points="469.4,1120.5 483.4,1140.3"/>
<path class="l" d="M482.7,1228.4 Q497.9,1249 489.9,1270 Q479.9,1249 482.7,1228.4 Z"/>
<polygon class="w" points="527.1,1224.1 530.7,1224.1 530.7,1189.8 531.2,1189.8 531.2,1170.2 531.9,1155.6 525.9,1155.6 526.6,1170.2 526.6,1189.8 527.1,1189.8"/>
<polyline class="t" points="526.6,1189.8 531.2,1189.8"/>
<polyline class="t" points="526.6,1170.2 531.2,1170.2"/>
<polygon class="w" points="540.6,1224.1 544.2,1224.1 544.2,1189.8 544.7,1189.8 544.7,1170.2 545.4,1155.6 539.4,1155.6 540.1,1170.2 540.1,1189.8 540.6,1189.8"/>
<polyline class="t" points="540.1,1189.8 544.7,1189.8"/>
<polyline class="t" points="540.1,1170.2 544.7,1170.2"/>
<polygon class="w" points="554.1,1224.1 557.7,1224.1 557.7,1189.8 558.2,1189.8 558.2,1170.2 558.9,1155.6 552.9,1155.6 553.6,1170.2 553.6,1189.8 554.1,1189.8"/>
<polyline class="t" points="553.6,1189.8 558.2,1189.8"/>
<polyline class="t" points="553.6,1170.2 558.2,1170.2"/>
<path class="w" d="M519.0,1156.6 L565.8,1156.6 Q567.8,1156.6 568.4,1153.6 L572.5,1127.6999999999998 L572.5,1090.1 Q572.5,1084.3999999999999 566.4,1084.3999999999999 L518.4,1084.3999999999999 Q512.3,1084.3999999999999 512.3,1090.1 L512.3,1127.6999999999998 L516.4,1153.6 Q517.0,1156.6 519.0,1156.6 Z"/>
<path class="l" d="M523.4,1153.0 L561.4,1153.0 Q563.4,1153.0 563.6999999999999,1150.6 L566.0,1127.6999999999998 L566.0,1090.6 Q566.0,1084.3999999999999 559.4,1084.3999999999999 L525.4,1084.3999999999999 Q518.8,1084.3999999999999 518.8,1090.6 L518.8,1127.6999999999998 L521.1,1150.6 Q521.4,1153.0 523.4,1153.0 Z"/>
<polygon class="w" points="505.2,1111.4 519.9,1111.4 519.9,1110.6 564.9,1110.6 564.9,1111.4 579.9,1111.4 579.9,1095.8 564.9,1095.8 564.9,1096.6 519.9,1096.6 519.9,1095.8 505.2,1095.8"/>
<circle class="l" cx="561.3" cy="1133.9" r="2"/>
<circle class="l" cx="523.4" cy="1127.7" r="2"/>
<rect class="t" x="534.1" y="1082" width="15.6" height="2.4"/>
<!-- scale -->
<rect x="662.7" y="1209.6" width="4.1" height="251.7" fill="#000"/>
<rect x="663.5" y="1361.7" width="2.5" height="48.6" fill="#fff"/>
<rect x="663.5" y="1261.2" width="2.5" height="48.6" fill="#fff"/>
<!-- ship2 -->
<polyline class="l" points="1000.1,202.4 1028.2,202.4"/>
<polyline class="l" points="1018.9,202.5 1028.2,205.6"/>
<path class="l" d="M1028.2,199.3 L1030.5,201.7 L1032.6,202.4 L1032.6,205.5 L1036.7,207.1 Q1052,214 1071.6,222.1"/>
<path class="l" d="M1028.2,199.3 L1031.3,263.6 L1032.9,303.8 L1036.7,400 L1039.1,467.4 L1039.8,610 L1039.1,1000 L1038.3,1175" style="stroke-width:1.3"/>
<polyline class="t" points="1041.6,600 1041.6,1025.3"/>
<polyline class="l" points="1038.3,1175 1035.7,1190 1035.7,1260 1050.4,1260"/>
<polyline class="l" points="1050.4,606.5 1050.4,1457.8"/>
<polyline class="l" points="1041.6,1025.3 1050.4,1025.3"/>
<polyline class="l" points="1072.5,1446.8 1050.4,1457.8"/>
<polyline class="l" points="1062.4,1454.6 1021.9,1467.9"/>
<polygon class="k" points="1059.5,1457.5 1062.5,1454.5 1062.5,1459"/>
<polyline class="l" points="1070,375.5 1062.3,375.5 1062.3,1189.7 1071,1189.7"/>
<polyline class="l" points="1062.3,606.5 1050.4,606.5"/>
<polyline class="l" points="1050.4,1158 1062.3,1158"/>
<rect class="k" x="1070" y="221.8" width="3.5" height="1225"/>
<circle class="p" cx="1042.9" cy="240" r="1.2"/>
<circle class="p" cx="1042.9" cy="253.5" r="1.2"/>
<circle class="p" cx="1042.9" cy="280.6" r="1.2"/>
<circle class="p" cx="1042.9" cy="310.5" r="1.2"/>
<circle class="p" cx="1042.9" cy="323.5" r="1.2"/>
<circle class="p" cx="1042.9" cy="337.1" r="1.2"/>
<circle class="p" cx="1042.9" cy="351.5" r="1.2"/>
<circle class="p" cx="1042.9" cy="366.2" r="1.2"/>
<circle class="p" cx="1042.9" cy="380.7" r="1.2"/>
<circle class="p" cx="1042.9" cy="388.2" r="1.2"/>
<circle class="p" cx="1042.9" cy="396.7" r="1.2"/>
<circle class="p" cx="1043.6" cy="397" r="1.2"/>
<circle class="p" cx="1043.6" cy="403.9" r="1.2"/>
<circle class="p" cx="1043.6" cy="418.6" r="1.2"/>
<circle class="p" cx="1043.6" cy="424.4" r="1.2"/>
<circle class="p" cx="1043.6" cy="441.1" r="1.2"/>
<circle class="p" cx="1043.6" cy="447" r="1.2"/>
<circle class="p" cx="1043.6" cy="461.2" r="1.2"/>
<circle class="p" cx="1043.6" cy="466.9" r="1.2"/>
<circle class="p" cx="1043.6" cy="483.3" r="1.2"/>
<circle class="p" cx="1043.6" cy="489.1" r="1.2"/>
<circle class="p" cx="1043.6" cy="504.1" r="1.2"/>
<circle class="p" cx="1043.6" cy="509.6" r="1.2"/>
<circle class="p" cx="1043.6" cy="524.3" r="1.2"/>
<circle class="p" cx="1043.6" cy="530.1" r="1.2"/>
<circle class="p" cx="1043.6" cy="546" r="1.2"/>
<circle class="p" cx="1043.6" cy="551.7" r="1.2"/>
<circle class="p" cx="1043.6" cy="566.8" r="1.2"/>
<circle class="p" cx="1043.6" cy="572.6" r="1.2"/>
<circle class="p" cx="1043.6" cy="588.9" r="1.2"/>
<circle class="p" cx="1043.6" cy="594.8" r="1.2"/>
<circle class="p" cx="1043.6" cy="610.8" r="1.2"/>
<circle class="p" cx="1043.6" cy="616.6" r="1.2"/>
<circle class="p" cx="1043.6" cy="632.5" r="1.2"/>
<circle class="p" cx="1043.6" cy="638.2" r="1.2"/>
<circle class="p" cx="1043.6" cy="653.7" r="1.2"/>
<circle class="p" cx="1043.6" cy="659.3" r="1.2"/>
<circle class="p" cx="1043.6" cy="675.4" r="1.2"/>
<circle class="p" cx="1043.6" cy="681.3" r="1.2"/>
<circle class="p" cx="1043.6" cy="696.3" r="1.2"/>
<circle class="p" cx="1043.6" cy="702.2" r="1.2"/>
<circle class="p" cx="1043.6" cy="718.1" r="1.2"/>
<circle class="p" cx="1043.6" cy="724.1" r="1.2"/>
<circle class="p" cx="1043.6" cy="739.8" r="1.2"/>
<circle class="p" cx="1043.6" cy="746.3" r="1.2"/>
<circle class="p" cx="1043.7" cy="762.5" r="1.2"/>
<circle class="p" cx="1043.7" cy="769" r="1.2"/>
<circle class="p" cx="1043.7" cy="776.8" r="1.2"/>
<circle class="p" cx="1043.7" cy="788.4" r="1.2"/>
<circle class="p" cx="1043.7" cy="793.5" r="1.2"/>
<circle class="p" cx="1043.7" cy="800.4" r="1.2"/>
<circle class="p" cx="1043.7" cy="806.3" r="1.2"/>
<circle class="p" cx="1044.2" cy="806.5" r="1.2"/>
<circle class="p" cx="1044.2" cy="822.5" r="1.2"/>
<circle class="p" cx="1044.2" cy="828" r="1.2"/>
<circle class="p" cx="1044.2" cy="840" r="1.2"/>
<circle class="p" cx="1044.2" cy="845" r="1.2"/>
<circle class="p" cx="1044.2" cy="855" r="1.2"/>
<circle class="p" cx="1044.2" cy="862" r="1.2"/>
<circle class="p" cx="1044.2" cy="870" r="1.2"/>
<circle class="p" cx="1044.2" cy="877" r="1.2"/>
<circle class="p" cx="1044.2" cy="887" r="1.2"/>
<circle class="p" cx="1044.2" cy="893" r="1.2"/>
<circle class="p" cx="1044.2" cy="903.5" r="1.2"/>
<circle class="p" cx="1044.2" cy="909" r="1.2"/>
<circle class="p" cx="1044.2" cy="918.5" r="1.2"/>
<circle class="p" cx="1044.2" cy="925" r="1.2"/>
<circle class="p" cx="1044.2" cy="945.5" r="1.2"/>
<circle class="p" cx="1044.2" cy="960" r="1.2"/>
<circle class="p" cx="1044.2" cy="966" r="1.2"/>
<circle class="p" cx="1044.2" cy="987.5" r="1.2"/>
<circle class="p" cx="1044.2" cy="993" r="1.2"/>
<circle class="p" cx="1044.2" cy="1015" r="1.2"/>
<circle class="p" cx="1044.2" cy="1021" r="1.2"/>
<circle class="p" cx="1044" cy="992" r="1.2"/>
<circle class="p" cx="1044" cy="998" r="1.2"/>
<circle class="p" cx="1044" cy="1014.5" r="1.2"/>
<circle class="p" cx="1044" cy="1020.5" r="1.2"/>
<circle class="p" cx="1053.2" cy="1201.04" r="1.15"/>
<circle class="p" cx="1053.2" cy="1208.41" r="1.15"/>
<circle class="p" cx="1053.2" cy="1213.56" r="1.15"/>
<circle class="p" cx="1053.2" cy="1220.92" r="1.15"/>
<circle class="p" cx="1053.2" cy="1225.34" r="1.15"/>
<circle class="p" cx="1053.2" cy="1235.09" r="1.15"/>
<circle class="p" cx="1053.2" cy="1240.06" r="1.15"/>
<circle class="p" cx="1053.2" cy="1248.53" r="1.15"/>
<circle class="p" cx="1053.2" cy="1253.5" r="1.15"/>
<circle class="p" cx="1053.2" cy="1261.42" r="1.15"/>
<circle class="p" cx="1053.2" cy="1265.83" r="1.15"/>
<circle class="p" cx="1053.2" cy="1272.83" r="1.15"/>
<circle class="p" cx="1053.2" cy="1277.43" r="1.15"/>
<circle class="p" cx="1053.2" cy="1284.79" r="1.15"/>
<circle class="p" cx="1053.2" cy="1290.31" r="1.15"/>
<circle class="p" cx="1053.2" cy="1296.39" r="1.15"/>
<circle class="p" cx="1053.2" cy="1300.99" r="1.15"/>
<circle class="p" cx="1053.2" cy="1307.8" r="1.15"/>
<circle class="p" cx="1053.2" cy="1312.4" r="1.15"/>
<circle class="p" cx="1053.2" cy="1322.52" r="1.15"/>
<circle class="p" cx="1053.2" cy="1327.12" r="1.15"/>
<circle class="p" cx="1053.2" cy="1333.57" r="1.15"/>
<circle class="p" cx="1053.2" cy="1338.17" r="1.15"/>
<circle class="p" cx="1053.2" cy="1345.53" r="1.15"/>
<circle class="p" cx="1053.2" cy="1350.68" r="1.15"/>
<circle class="p" cx="1053.2" cy="1357.49" r="1.15"/>
<circle class="p" cx="1053.2" cy="1362.1" r="1.15"/>
<circle class="p" cx="1053.2" cy="1373.69" r="1.15"/>
<circle class="p" cx="1053.2" cy="1378.29" r="1.15"/>
<circle class="p" cx="1053.2" cy="1387.5" r="1.15"/>
<circle class="p" cx="1053.2" cy="1399.46" r="1.15"/>
<circle class="p" cx="1053.2" cy="1410.32" r="1.15"/>
<circle class="p" cx="1053.2" cy="1424.31" r="1.15"/>
<circle class="p" cx="1053.2" cy="1435.72" r="1.15"/>
<circle class="p" cx="1053.2" cy="1450.45" r="1.15"/>
<circle class="p" cx="1041.2" cy="1205.1" r="1.15"/>
<circle class="p" cx="1041.2" cy="1219.4" r="1.15"/>
<circle class="p" cx="1041.2" cy="1234.2" r="1.15"/>
<rect class="l" x="1029.5" y="319" width="3.4" height="3.7"/>
<rect class="l" x="1030.5" y="354.6" width="3.9" height="5.7"/>
<rect class="k" x="1029" y="354.6" width="1.5" height="5.7"/>
<polygon class="w" points="1030.3,264.4 1042.2,269.9 1040,276.9 1032.3,282.4 1028.2,274.4"/>
<polyline class="t" points="1031.5,266.8 1040.8,271.2"/>
<path class="t" d="M1033,268.4 q-3,6 -1,10 M1036,269.9 q-3,6 -1,9 M1039,271.4 q-3,5 -2,7"/>
<polygon class="w" points="1031.3,286.2 1043.2,291.7 1041,298.7 1033.3,304.2 1029.2,296.2"/>
<polyline class="t" points="1032.5,288.6 1041.8,293"/>
<path class="t" d="M1034,290.2 q-3,6 -1,10 M1037,291.7 q-3,6 -1,9 M1040,293.2 q-3,5 -2,7"/>
<rect class="k" x="1033.3" y="480.2" width="2.3" height="5" style="fill:#555"/>
<path class="w" d="M1037.8,485.2 L1034.5,485.2 Q1030.5,489.2 1030.1,494.2 L1030.1,500.7 L1037.8,500.7"/>
<rect class="k" x="1037.8" y="486.2" width="1.5" height="14" style="fill:#555"/>
<polyline class="t" points="1030.1,493.2 1029.2,493.2 1029.2,497.2 1030.1,497.2"/>
<rect class="k" x="1033.3" y="511.1" width="2.3" height="5" style="fill:#555"/>
<path class="w" d="M1037.8,516.1 L1034.5,516.1 Q1030.5,520.1 1030.1,525.1 L1030.1,531.6 L1037.8,531.6"/>
<rect class="k" x="1037.8" y="517.1" width="1.5" height="14" style="fill:#555"/>
<polyline class="t" points="1030.1,524.1 1029.2,524.1 1029.2,528.1 1030.1,528.1"/>
<polygon class="w" points="1025.1,537.3 1028.5,537.3 1030.5,569.5 1032.9,590.4 1032.9,605.1 1026.7,605.1 1026.4,569.5"/>
<polyline class="t" points="1026.4,569.5 1030.5,569.5"/>
<polyline class="t" points="1026.7,590.4 1032.9,590.4"/>
<path class="w" d="M1032.6,563.3 L1037.8,565 Q1040,585 1039.3,602 L1036,600.5 Q1036,580 1032.6,563.3 Z"/>
<polygon class="w" points="1019.7,607 1038.3,603.9 1038.3,666.6 1036.7,668 1036.7,675.1 1025.9,675.1 1018.2,672.7 1015.8,648"/>
<polyline class="t" points="1036.3,604.3 1036.3,667"/>
<rect class="l" x="1015.8" y="648.3" width="8.1" height="15.5"/>
<rect class="l" x="1025.9" y="675.1" width="10.8" height="1.9"/>
<rect class="t" x="1015.4" y="625.5" width="1.6" height="3.5"/>
<rect class="t" x="1015" y="632" width="1.6" height="4"/>
<polygon class="w" points="1011.5,653.1 1014.8,653.1 1016.2,684.4 1017.4,705.2 1017.6,722 1011.5,722"/>
<polyline class="t" points="1011.5,684.4 1016.2,684.4"/>
<polyline class="t" points="1011.5,705.2 1017.4,705.2"/>
<path class="w" d="M1032.6,686.4 L1038.3,688.2 Q1040.4,706 1039.8,723.8 L1036.7,723 Q1036.4,703 1032.6,686.4 Z"/>
<polygon class="w" points="1005,723 1035.2,717.9 1038.3,717.9 1038.3,783.4 1022.8,783.4 1022,790.4 1004.2,790.4 1001.6,774.9"/>
<polyline class="l" points="1020.5,720.7 1020.5,783.4"/>
<rect class="l" x="1001.6" y="764.5" width="7.3" height="15.5"/>
<rect class="l" x="1012" y="790.4" width="10" height="2"/>
<rect class="t" x="1001" y="741" width="1.6" height="3.5"/>
<rect class="t" x="1000.6" y="748" width="1.6" height="4"/>
<polyline class="l" points="1042.2,745.5 1032.9,752.5"/>
<polyline class="l" points="1042.2,790 1030,780"/>
<path class="w" d="M1036.7,755.5 L1030,755.5 Q1024.4,760 1024.4,765 L1024.4,773 Q1024.4,778 1030,782.6 L1036.7,782.6 Z"/>
<path class="t" d="M1033.5,755.5 Q1035.5,769 1033.5,782.6"/>
<path class="l" d="M1026,759.5 Q1031,752 1035.5,756 M1026,778.5 Q1031,786 1035.5,782"/>
<polyline class="l" points="1036.7,755.5 1048.3,755.5" style="stroke-width:1.5"/>
<polyline class="l" points="1036.7,781.9 1048.3,781.9" style="stroke-width:1.5"/>
<rect class="w" x="1034.4" y="787.3" width="3.4" height="6.9"/>
<path class="w" d="M1038.3,794.2 L1035,794.2 Q1031.3,797 1031.3,801 L1031.3,808.2 L1038.3,808.2"/>
<polyline class="t" points="1031.3,801 1030.3,801 1030.3,805 1031.3,805"/>
<!-- ship2b -->
<rect class="w" x="996.2" y="812.4" width="12.4" height="22"/>
<polyline class="l" points="998.4,813.5 998.4,834" stroke-dasharray="2.4 1.4" style="stroke-width:2"/>
<polyline class="l" points="1008.6,813.2 1038.6,810.2"/>
<polyline class="l" points="1000.2,834.4 1038.6,834.4"/>
<polygon class="w" points="982.8,827.133 989.245,820.5 995.5,820.5 995.5,840.6 982.8,840.6"/>
<rect class="t" x="981.2" y="828.54" width="1.6" height="3.618"/>
<circle class="p" cx="990.218" cy="823.515" r="1.15"/>
<rect class="t" x="986.882" y="828.942" width="6.116" height="2.814" rx="0.8"/>
<circle class="p" cx="986.604" cy="835.374" r="1.15"/>
<circle class="p" cx="990.357" cy="835.374" r="1.15"/>
<polyline class="l" points="996.2,834.4 996.2,855.3"/>
<polyline class="l" points="1000.4,834.4 1000.4,892.1"/>
<polyline class="l" points="1000.2,892.1 1041.5,892.1"/>
<circle class="p" cx="1011.3" cy="839.2" r="1.15"/>
<circle class="p" cx="1011.3" cy="848.2" r="1.15"/>
<circle class="p" cx="1011.3" cy="858.8" r="1.15"/>
<circle class="p" cx="1011.3" cy="865" r="1.15"/>
<circle class="p" cx="1011.3" cy="875.3" r="1.15"/>
<circle class="p" cx="1011.3" cy="886" r="1.15"/>
<circle class="p" cx="1021.8" cy="843.9" r="1.15"/>
<circle class="p" cx="1021.8" cy="850.4" r="1.15"/>
<circle class="p" cx="1021.8" cy="879.7" r="1.15"/>
<circle class="p" cx="1021.8" cy="886.2" r="1.15"/>
<circle class="p" cx="1031.3" cy="850.4" r="1.15"/>
<circle class="p" cx="1031.3" cy="879.7" r="1.15"/>
<circle class="p" cx="1031.3" cy="886.2" r="1.15"/>
<polyline class="l" points="1041.5,829.2 1024,843.9"/>
<polyline class="l" points="1024,870.2 1041.5,883.3"/>
<path class="w" d="M1037.1,838.3 L1029,840.5 Q1022.5,846 1022.5,851 L1022.5,863 Q1022.5,868 1029,873.5 L1037.1,875.3 Z"/>
<path class="t" d="M1033.5,839.5 Q1035.3,857 1033.5,874.5"/>
<path class="l" d="M1024,845 Q1029,838.5 1034.5,840.5 M1024,869 Q1029,875.5 1034.5,873.5"/>
<polyline class="l" points="1036,840.2 1048.1,840.2" style="stroke-width:1.5"/>
<polyline class="l" points="1036,874.5 1048.1,874.5" style="stroke-width:1.5"/>
<rect class="w" x="941.4" y="855.3" width="58.5" height="11.2"/>
<polyline class="l" points="925.3,859.2 941.4,860.6"/>
<circle class="w" cx="939.9" cy="859.2" r="1.4"/>
<polyline class="t" points="945.8,857.8 967.7,857.8"/>
<polyline class="t" points="945.8,860 967.7,860"/>
<polyline class="t" points="945.8,862.2 967.7,862.2"/>
<polyline class="l" points="945.8,855.3 945.8,866.5"/>
<circle class="w" cx="965.2" cy="861.4" r="2.8"/>
<rect class="w" x="968.4" y="846.8" width="5.2" height="19"/>
<polygon class="t" points="973.6,852 977.9,861 977.9,866 973.6,866"/>
<polyline class="t" points="973.6,856 977.5,864"/>
<polyline class="t" points="973.6,860 976,865.5"/>
<rect class="l" x="979.4" y="856.3" width="5.1" height="9.5"/>
<polyline class="t" points="979.4,861 984.5,861"/>
<circle class="p" cx="996.6" cy="863.1" r="1.2"/>
<polyline class="l" points="945,840.2 949.9,840.2 951.9,854.8"/>
<rect class="w" x="945.8" y="866.5" width="54.4" height="7.3"/>
<circle class="p" cx="951.6" cy="870.5" r="1.15"/>
<circle class="p" cx="951.6" cy="870.5" r="1.15"/>
<circle class="p" cx="961.1" cy="870.5" r="1.15"/>
<circle class="p" cx="973.6" cy="870.5" r="1.15"/>
<circle class="p" cx="985.5" cy="870.5" r="1.15"/>
<circle class="p" cx="996.6" cy="870.5" r="1.15"/>
<rect class="w" x="949.9" y="873.8" width="54.3" height="5.9" style="fill:#8a8a8a"/>
<polyline class="l" points="950.5,876.7 1003.6,876.7" style="stroke:#555;stroke-width:.8"/>
<rect class="w" x="951.6" y="879.7" width="52.6" height="12.4"/>
<rect class="l" x="953.8" y="881.2" width="9.5" height="8"/>
<polyline class="t" points="953.8,885.2 963.3,885.2"/>
<circle class="p" cx="973.6" cy="883.6" r="1.15"/>
<circle class="p" cx="973.6" cy="889.2" r="1.15"/>
<circle class="p" cx="985.5" cy="883.6" r="1.15"/>
<circle class="p" cx="985.5" cy="889.2" r="1.15"/>
<path class="w" d="M996.9,880.5 L993.5,880.5 Q990.4,883 990.4,886 Q990.4,889 993.5,891.5 L996.9,891.5"/>
<polyline class="t" points="993.2,881 993.2,891"/>
<rect class="w" x="996.9" y="878.9" width="2.2" height="14.7"/>
<rect class="k" x="1002.4" y="879.7" width="1.8" height="12.4" style="fill:#777"/>
<polygon class="w" points="935.6,884.749 940.23,879.7 945,879.7 945,895 935.6,895"/>
<rect class="t" x="934" y="885.82" width="1.6" height="2.754"/>
<circle class="p" cx="940.972" cy="881.995" r="1.15"/>
<rect class="t" x="938.428" y="886.126" width="4.664" height="2.142" rx="0.8"/>
<circle class="p" cx="938.216" cy="891.022" r="1.15"/>
<circle class="p" cx="941.078" cy="891.022" r="1.15"/>
<rect class="w" x="945" y="880.4" width="6.6" height="12.4"/>
<path class="w" d="M926.8,862.9 L918,862.9 Q914.4,863.5 914.4,868 L914.4,890 Q914.4,895 918,895 L926.8,895 Z"/>
<polyline class="l" points="918.8,862.9 918.8,895"/>
<polyline class="t" points="914.4,866.5 926.8,866.5"/>
<polyline class="l" points="914.4,874.5 926.8,874.5"/>
<polyline class="l" points="914.4,887 926.8,887"/>
<path class="l" d="M916.5,867.5 L916.5,873 M916.5,888 L916.5,894" style="stroke-width:1.6"/>
<polygon class="l" points="926.8,862.1 932.6,874.5 926.8,874.5"/>
<polyline class="l" points="926.8,874.5 941.4,874.5"/>
<polygon class="w" points="900.9,877.133 907.785,870.5 914.4,870.5 914.4,890.6 900.9,890.6"/>
<rect class="t" x="899.3" y="878.54" width="1.6" height="3.618"/>
<circle class="p" cx="908.814" cy="873.515" r="1.15"/>
<rect class="t" x="905.286" y="878.942" width="6.468" height="2.814" rx="0.8"/>
<circle class="p" cx="904.992" cy="885.374" r="1.15"/>
<circle class="p" cx="908.961" cy="885.374" r="1.15"/>
<polyline class="l" points="888,891.4 910,891.4"/>
<polygon class="l" points="926.8,889.2 931.9,889.2 927.1,921.3"/>
<polyline class="t" points="926.9,892 931.483,894"/>
<polyline class="t" points="931.483,894 926.9,896"/>
<polyline class="t" points="926.9,896 930.887,898"/>
<polyline class="t" points="930.887,898 926.9,900"/>
<polyline class="t" points="926.9,900 930.291,902"/>
<polyline class="t" points="930.291,902 926.9,904"/>
<polyline class="t" points="926.9,904 929.695,906"/>
<polyline class="t" points="929.695,906 926.9,908"/>
<polyline class="t" points="926.9,908 929.099,910"/>
<polyline class="t" points="929.099,910 926.9,912"/>
<polyline class="t" points="926.9,912 928.503,914"/>
<polyline class="t" points="928.503,914 926.9,916"/>
<polyline class="t" points="926.9,916 927.907,918"/>
<polyline class="t" points="927.907,918 926.9,920"/>
<polyline class="l" points="931.9,889.2 934.4,889.2"/>
<path class="l" d="M923.9,895.7 Q915,915 880,955.6 Q840,1000 798.5,1032.9"/>
<path class="w" d="M960.8,931.2 C953.5,935.7 953.5,962.7 960.8,967.2"/>
<path class="t" d="M960.8,931.7 L958.5,936.7 M960.8,966.7 L958.5,961.7"/>
<polyline class="t" points="955.8,945.7 955.8,952.7"/>
<polyline class="t" points="957.2,942.34 957.2,956.06"/>
<polyline class="t" points="958.8,938.5 958.8,959.9"/>
<rect class="w" x="960.8" y="930.7" width="17.2" height="37"/>
<polyline class="l" points="963,930.7 963,967.7"/>
<polyline class="l" points="969.5,930.7 969.5,967.7"/>
<polyline class="l" points="966.3,932.7 966.3,965.7" stroke-dasharray="1 3.4" style="stroke-width:1.5"/>
<polyline class="l" points="973.8,932.7 973.8,965.7" stroke-dasharray="1 3.4" style="stroke-width:1.5"/>
<path class="w" d="M960.8,976.8 C953.5,981.3 953.5,1008.2 960.8,1012.7"/>
<path class="t" d="M960.8,977.3 L958.5,982.3 M960.8,1012.2 L958.5,1007.2"/>
<polyline class="t" points="955.8,991.3 955.8,998.2"/>
<polyline class="t" points="957.2,987.94 957.2,1001.56"/>
<polyline class="t" points="958.8,984.1 958.8,1005.4"/>
<rect class="w" x="960.8" y="976.3" width="51.6" height="36.9"/>
<polyline class="l" points="963,976.3 963,1013.2"/>
<polyline class="l" points="969.5,976.3 969.5,1013.2"/>
<polyline class="l" points="966.3,978.3 966.3,1011.2" stroke-dasharray="1 3.4" style="stroke-width:1.5"/>
<polyline class="l" points="973.8,978.3 973.8,1011.2" stroke-dasharray="1 3.4" style="stroke-width:1.5"/>
<polyline class="l" points="969.4,930.7 1005.7,901.6 1010.8,900.1"/>
<polyline class="l" points="978,967.7 982.3,967.7"/>
<polyline class="l" points="990,955.6 1008.1,945.3"/>
<rect class="w" x="982.3" y="940.2" width="6" height="56.7"/>
<polyline class="t" points="988.3,942 990.5,942 990.5,946"/>
<circle class="w" cx="978.4" cy="963.7" r="3"/>
<circle class="w" cx="978.4" cy="990.4" r="3"/>
<polyline class="l" points="988.3,996.9 1012.4,996.9"/>
<polyline class="l" points="988.3,976.3 1012.4,976.3"/>
<polyline class="l" points="994,979 994,994" stroke-dasharray="1.2 2.6" style="stroke-width:1.4"/>
<polyline class="l" points="998,979 998,994" stroke-dasharray="1.2 2.6" style="stroke-width:1.4"/>
<polyline class="t" points="1003,976.3 1003,996.9"/>
<polyline class="t" points="1006,976.3 1006,996.9"/>
<polyline class="t" points="1009,976.3 1009,996.9"/>
<polyline class="t" points="1003,983 1012.4,983"/>
<polyline class="t" points="1003,990 1012.4,990"/>
<polyline class="l" points="1012.4,975 1012.4,1013.2"/>
<rect class="t" x="1009.5" y="975.5" width="2.9" height="37.5"/>
<polyline class="l" points="1013,889.2 1013,904.5" style="stroke-width:1.9"/>
<polyline class="l" points="1030.5,900.9 1030.5,923.8" style="stroke-width:1.7"/>
<polyline class="l" points="1013,932 1013,946" style="stroke-width:1.7"/>
<polyline class="l" points="1022,942 1022,962" style="stroke-width:1.7"/>
<polyline class="l" points="1018.1,907.4 1038.6,907.4"/>
<path class="w" d="M1007.9,901.5 L1018.4,902.5 L1018.4,930.7 L1009.4,930.7 Q1004.4,916.1 1007.9,901.5 Z"/>
<path class="w" d="M1038.2,920.4 L1024.5,929 L1023.6,948 L1026,951.3 L1038.2,951.3 Q1042,936 1038.2,920.4 Z"/>
<polyline class="t" points="1024.5,929 1037,922.5"/>
<path class="w" d="M1007.9,946.2 L1019.4,947.2 L1019.4,973.7 L1009.4,973.7 Q1004.4,959.95 1007.9,946.2 Z"/>
<path class="w" d="M1028.8,961.7 L1016,971 L1015,990 L1017.5,992.6 L1028.8,992.6 Q1032,977 1028.8,961.7 Z"/>
<polyline class="t" points="1016,971 1028,963.5"/>
<polyline class="l" points="1018.4,907.4 1018.4,930"/>
<polyline class="l" points="1026,951.3 1038.6,951.3"/>
<polyline class="t" points="1028.8,965 1040,965"/>
<path class="t" d="M1028.8,985 Q1037,986 1038.6,996"/>
<!-- ship2c -->
<polyline class="l" points="745.7,1032.6 771,1032.6"/>
<polyline class="l" points="771,1032.9 882.5,1009.5" style="stroke-width:1.3"/>
<polyline class="l" points="771,1032.9 882.5,1057.7" style="stroke-width:1.3"/>
<polyline class="t" points="795.8,1030 882.5,1011.5"/>
<polyline class="t" points="806,1029.5 882.5,1013.5"/>
<polyline class="t" points="795.8,1035.8 882.5,1055.5"/>
<polyline class="t" points="771,1032.9 882.5,1032.9"/>
<polyline class="t" points="795.8,1031.2 882.5,1029"/>
<path class="w" d="M882.5,1002.7 Q885.5,1037 882.5,1071.4 Q880,1037 882.5,1002.7 Z"/>
<polyline class="l" points="883,1012 883,1062" stroke-dasharray="3 4" style="stroke-width:1.8"/>
<rect class="w" x="880.5" y="1021" width="11.6" height="6.5"/>
<rect class="w" x="892.1" y="1019.2" width="9.6" height="15.1"/>
<polyline class="l" points="901.7,1020.5 1016,1020.5"/>
<polyline class="l" points="901.7,1027.4 1016,1027.4"/>
<rect class="w" x="922.4" y="1023.8" width="11.5" height="12.7"/>
<rect class="w" x="964.2" y="1024.7" width="13.2" height="19.2"/>
<circle class="p" cx="968" cy="1030" r="1.05"/>
<circle class="p" cx="968" cy="1036" r="1.05"/>
<circle class="p" cx="968" cy="1040" r="1.05"/>
<polyline class="l" points="901.7,1030 922.4,1033"/>
<polyline class="l" points="933.9,1030 964.2,1037.5"/>
<polyline class="l" points="933.9,1033.5 964.2,1041"/>
<polyline class="l" points="977.4,1033 1012,1038"/>
<polyline class="l" points="977.4,1037 1008,1042.6"/>
<polyline class="l" points="893.6,1042.6 901.7,1027.4"/>
<polyline class="l" points="893.6,1042.6 963.6,1041.2"/>
<path class="l" d="M882.5,1059 Q930,1058 964.2,1042.8"/>
<polyline class="l" points="912.7,1013.7 1013.2,1017.8"/>
<polyline class="l" points="912.7,1013.7 914,1017 1013.2,1019.4"/>
<polyline class="t" points="916,1016 1010,1012.5"/>
<polygon class="w" points="886,1062 899.2,1058.5 900.9,1076.5 887.8,1079.7" style="fill:#e4e4e4;stroke:#444"/>
<polyline class="l" points="898.6,1059 900.3,1076.2" style="stroke:#777;stroke-width:2"/>
<polygon class="k" points="889.65,1074.09 891.72,1072.87 891.4,1070.5 893.2,1072.09 895.36,1071.05 894.41,1073.25 896.06,1074.99 893.67,1074.76 892.53,1076.87 892.01,1074.53" style="fill:#666"/>
<circle class="l" cx="892.3" cy="1065.5" r="1.7" style="stroke:#666;stroke-width:1.1"/>
<polyline class="l" points="890.5,1064 894.5,1067.2" style="stroke:#666;stroke-width:1.1"/>
<path class="l" d="M1016,1013.2 L1016,1042.6"/>
<path class="w" d="M1039,992 L1022,998 L1014.3,1003 L1014.3,1040 L1022,1042.6 Q1036,1030 1039,992 Z"/>
<path class="t" d="M1035,996 Q1031,1028 1020,1041 M1030,998 Q1027,1025 1017.5,1038 M1025,1000 Q1023,1020 1016,1032"/>
<rect class="w" x="1015.5" y="1008" width="6" height="16" rx="1"/>
<polyline class="l" points="1017.5,1010 1017.5,1022" stroke-dasharray="1.6 1" style="stroke-width:2.2;stroke:#444"/>
<rect class="w" x="1001.9" y="1040.3" width="35.6" height="20.1"/>
<rect class="k" x="1003.6" y="1044" width="2.2" height="3" style="fill:#444"/>
<rect class="k" x="1003.6" y="1049" width="2.2" height="3" style="fill:#444"/>
<rect class="k" x="1003.6" y="1054" width="2.2" height="3" style="fill:#444"/>
<polygon class="w" points="992.3,1042.6 1001.9,1042.6 1001.9,1058.1 997.04,1058.1 992.3,1052.98"/>
<rect class="t" x="990.7" y="1049.11" width="1.6" height="2.79"/>
<circle class="p" cx="994.988" cy="1046.32" r="1.15"/>
<circle class="p" cx="998.228" cy="1046.32" r="1.15"/>
<rect class="t" x="995.204" y="1049.11" width="4.752" height="2.17" rx="0.8"/>
<circle class="p" cx="997.796" cy="1055.62" r="1.15"/>
<polygon class="w" points="975.2,1057.6 987.2,1057.6 987.2,1078.5 981.26,1078.5 975.2,1071.6"/>
<rect class="t" x="973.6" y="1066.38" width="1.6" height="3.762"/>
<circle class="p" cx="978.752" cy="1062.62" r="1.15"/>
<circle class="p" cx="982.712" cy="1062.62" r="1.15"/>
<rect class="t" x="979.016" y="1066.38" width="5.808" height="2.926" rx="0.8"/>
<circle class="p" cx="982.184" cy="1075.16" r="1.15"/>
<polyline class="l" points="987.2,1063 996.5,1063"/>
<polyline class="l" points="987.2,1068 996.5,1068"/>
<rect class="w" x="996.5" y="1060.4" width="11.6" height="18.6"/>
<polyline class="l" points="996.5,1069 1002,1069 1002,1060.4"/>
<circle class="k" cx="1002.3" cy="1073" r="1.1"/>
<rect class="w" x="1008.1" y="1069.7" width="29.4" height="30.2"/>
<polyline class="l" points="1008.1,1091 1037.5,1091"/>
<circle class="p" cx="1019.2" cy="1074.8" r="1.15"/>
<circle class="p" cx="1019.2" cy="1085.2" r="1.15"/>
<circle class="p" cx="1019.2" cy="1094.5" r="1.15"/>
<circle class="p" cx="1029.5" cy="1074.8" r="1.15"/>
<circle class="p" cx="1029.5" cy="1085.2" r="1.15"/>
<circle class="p" cx="1029.5" cy="1094.5" r="1.15"/>
<path class="w" d="M1008.1,1094 L1001,1092.8 L994,1091.4 L994,1106.9 L1001,1105.5 L1008.1,1099.9"/>
<path class="w" d="M994,1091.4 Q986.4,1092.5 986.4,1099.2 Q986.4,1105.8 994,1106.9"/>
<polyline class="t" points="989.5,1093 989.5,1105.5"/>
<polyline class="t" points="991.5,1092 991.5,1106.3"/>
<polyline class="t" points="996.5,1091.8 996.5,1106.4"/>
<polyline class="t" points="998.5,1092.2 998.5,1106"/>
<circle class="t" cx="991" cy="1097.5" r="0.9"/>
<polyline class="l" points="1008.1,1099.9 1014,1102 1030,1100"/>
<path class="w" d="M1036,1057 L1048,1055.8 Q1051,1056 1050.7,1060 L1050.7,1086.7 L1040,1081 L1036.5,1072 Z"/>
<polyline class="t" points="1036.5,1072 1050.7,1082"/>
<polyline class="l" points="1042.6,1085.2 1042.6,1106" style="stroke-width:2;stroke:#333"/>
<path class="w" d="M1038.3,1089 L1034,1089 Q1030.5,1091 1030.5,1096 L1030.5,1100 L1033,1103 L1038.3,1103"/>
<polyline class="t" points="1031,1094 1038.3,1094"/>
<polyline class="l" points="1034.5,1103 1034.5,1109.2" style="stroke-width:1.8"/>
<polyline class="l" points="1034.5,1103.5 1037.5,1103.5"/>
<rect class="w" x="1018.2" y="1117.2" width="10.8" height="2.8"/>
<polygon class="w" points="1010.4,1120 1029,1120.8 1029,1126.2 1037.5,1126.2 1037.5,1175 1034.4,1176 1034.4,1190.4 1011.2,1187.3 1008.9,1146.3 1008.9,1129.3"/>
<polyline class="l" points="1027.5,1120.8 1027.5,1188.9"/>
<rect class="l" x="1008.9" y="1128.5" width="6.2" height="16.7"/>
<rect class="t" x="1007.5" y="1158.5" width="1.8" height="3.5"/>
<rect class="t" x="1007.8" y="1165" width="1.8" height="4"/>
<polygon class="w" points="1018.2,1189.7 1024.7,1190.5 1023,1203.8 1019.1,1203.8"/>
<polygon class="w" points="1019.1,1203.8 1022.9,1203.8 1022.3,1256.4 1018.6,1256.4"/>
<polyline class="t" points="1019,1222 1022.7,1222"/>
<polyline class="l" points="1050.4,1119 1040,1127"/>
<polyline class="l" points="1040,1155 1050.4,1164"/>
<path class="w" d="M1046.8,1128 L1040,1126.2 Q1034.1,1132 1034.1,1137 L1034.1,1146 Q1034.1,1151 1040,1155.6 L1046.8,1154.5 Z"/>
<path class="t" d="M1043.5,1127.2 Q1045.3,1141 1043.5,1155"/>
<path class="l" d="M1035.6,1132 Q1040,1125.5 1044.5,1128 M1035.6,1150 Q1040,1156.5 1044.5,1154"/>
<polyline class="l" points="1046,1129.3 1057.6,1129.3" style="stroke-width:1.5"/>
<polyline class="l" points="1046,1155.3 1057.6,1155.3" style="stroke-width:1.5"/>
<path class="w" d="M1049.9,1168 L1045,1168 Q1041.4,1170 1041.4,1175 L1041.4,1180 L1044,1183.5 L1049.9,1183.5"/>
<polyline class="t" points="1042,1173.5 1049.9,1173.5"/>
<polyline class="t" points="1041.4,1174 1040.4,1174 1040.4,1178 1041.4,1178"/>
<polyline class="l" points="1047,1183.5 1047,1189" style="stroke-width:1.6"/>
<polyline class="l" points="1046.8,1230.5 1038.5,1250.7 1042.2,1278.3"/>
<polyline class="l" points="1047.6,1232 1041,1251 1044,1278.3"/>
<polyline class="t" points="1044.77,1234 1047.37,1236.5"/>
<polyline class="t" points="1047.37,1236.5 1044.77,1239"/>
<polyline class="t" points="1042.72,1239 1045.32,1241.5"/>
<polyline class="t" points="1045.32,1241.5 1042.72,1244"/>
<polyline class="t" points="1040.66,1244 1043.26,1246.5"/>
<polyline class="t" points="1043.26,1246.5 1040.66,1249"/>
<polyline class="t" points="1038.62,1249 1041.21,1251.5"/>
<polyline class="t" points="1041.21,1251.5 1038.62,1254"/>
<polyline class="t" points="1038.94,1254 1041.54,1256.5"/>
<polyline class="t" points="1041.54,1256.5 1038.94,1259"/>
<polyline class="t" points="1039.61,1259 1042.21,1261.5"/>
<polyline class="t" points="1042.21,1261.5 1039.61,1264"/>
<polyline class="t" points="1040.28,1264 1042.88,1266.5"/>
<polyline class="t" points="1042.88,1266.5 1040.28,1269"/>
<polyline class="t" points="1040.95,1269 1043.55,1271.5"/>
<polyline class="t" points="1043.55,1271.5 1040.95,1274"/>
<polyline class="t" points="1041.62,1274 1044.22,1276.5"/>
<polyline class="t" points="1044.22,1276.5 1041.62,1279"/>
<path class="w" d="M1048.6,1279 L1037,1278.3 Q1034.6,1279 1035,1283 L1038,1300 L1041,1304.1 L1048.6,1304.1 Z"/>
<rect class="t" x="1041.5" y="1281" width="5" height="17"/>
<polyline class="t" points="1041.5,1287 1046.5,1287"/>
<polyline class="t" points="1041.5,1292 1046.5,1292"/>
<rect class="t" x="1048.6" y="1279" width="1.8" height="23"/>
<polyline class="l" points="1042.2,1304.1 1042.2,1318.8" style="stroke-width:1.8"/>
<path class="w" d="M1047.7,1321.6 L1037,1321.6 Q1034.6,1322.5 1035,1326 L1037,1337 L1040.5,1337 L1040.5,1348.3 L1047.7,1348.3 Z"/>
<polyline class="l" points="1047.7,1325 1050.4,1325"/>
<polyline class="l" points="1047.7,1345 1050.4,1345"/>
<polyline class="l" points="1035.7,1335.4 1035.7,1420 1034.8,1455"/>
<polyline class="l" points="1038.5,1335.4 1045.8,1370 1045.8,1430 1043.2,1455"/>
<polyline class="l" points="1034.8,1455 1043.2,1455"/>
<polyline class="t" points="1035.7,1338 1039.05,1338"/>
<polyline class="l" points="1035.7,1338 1040.44,1344.6"/>
<polyline class="t" points="1039.05,1338 1035.7,1344.6"/>
<polyline class="t" points="1035.7,1344.6 1040.44,1344.6"/>
<polyline class="l" points="1035.7,1344.6 1041.83,1351.2"/>
<polyline class="t" points="1040.44,1344.6 1035.7,1351.2"/>
<polyline class="t" points="1035.7,1351.2 1041.83,1351.2"/>
<polyline class="l" points="1035.7,1351.2 1043.23,1357.8"/>
<polyline class="t" points="1041.83,1351.2 1035.7,1357.8"/>
<polyline class="t" points="1035.7,1357.8 1043.23,1357.8"/>
<polyline class="l" points="1035.7,1357.8 1044.62,1364.4"/>
<polyline class="t" points="1043.23,1357.8 1035.7,1364.4"/>
<polyline class="t" points="1035.7,1364.4 1044.62,1364.4"/>
<polyline class="l" points="1035.7,1364.4 1045.8,1371"/>
<polyline class="t" points="1044.62,1364.4 1035.7,1371"/>
<polyline class="t" points="1035.7,1371 1045.8,1371"/>
<polyline class="l" points="1035.7,1371 1045.8,1377.6"/>
<polyline class="t" points="1045.8,1371 1035.7,1377.6"/>
<polyline class="t" points="1035.7,1377.6 1045.8,1377.6"/>
<polyline class="l" points="1035.7,1377.6 1045.8,1384.2"/>
<polyline class="t" points="1045.8,1377.6 1035.7,1384.2"/>
<polyline class="t" points="1035.7,1384.2 1045.8,1384.2"/>
<polyline class="l" points="1035.7,1384.2 1045.8,1390.8"/>
<polyline class="t" points="1045.8,1384.2 1035.7,1390.8"/>
<polyline class="t" points="1035.7,1390.8 1045.8,1390.8"/>
<polyline class="l" points="1035.7,1390.8 1045.8,1397.4"/>
<polyline class="t" points="1045.8,1390.8 1035.7,1397.4"/>
<polyline class="t" points="1035.7,1397.4 1045.8,1397.4"/>
<polyline class="l" points="1035.7,1397.4 1045.8,1404"/>
<polyline class="t" points="1045.8,1397.4 1035.7,1404"/>
<polyline class="t" points="1035.7,1404 1045.8,1404"/>
<polyline class="l" points="1035.7,1404 1045.8,1410.6"/>
<polyline class="t" points="1045.8,1404 1035.7,1410.6"/>
<polyline class="t" points="1035.7,1410.6 1045.8,1410.6"/>
<polyline class="l" points="1035.7,1410.6 1045.8,1417.2"/>
<polyline class="t" points="1045.8,1410.6 1035.7,1417.2"/>
<polyline class="t" points="1035.7,1417.2 1045.8,1417.2"/>
<polyline class="l" points="1035.7,1417.2 1045.8,1423.8"/>
<polyline class="t" points="1045.8,1417.2 1035.7,1423.8"/>
<polyline class="t" points="1035.7,1423.8 1045.8,1423.8"/>
<polyline class="l" points="1035.7,1423.8 1045.76,1430.4"/>
<polyline class="t" points="1045.8,1423.8 1035.7,1430.4"/>
<polyline class="t" points="1035.7,1430.4 1045.76,1430.4"/>
<polyline class="l" points="1035.7,1430.4 1045.07,1437"/>
<polyline class="t" points="1045.76,1430.4 1035.7,1437"/>
<polyline class="t" points="1035.7,1437 1045.07,1437"/>
<polyline class="l" points="1035.7,1437 1044.39,1443.6"/>
<polyline class="t" points="1045.07,1437 1035.7,1443.6"/>
<polyline class="t" points="1035.7,1443.6 1044.39,1443.6"/>
<polyline class="l" points="1035.7,1443.6 1043.7,1450.2"/>
<polyline class="t" points="1044.39,1443.6 1035.7,1450.2"/>
<polyline class="l" points="1045.8,1394.3 1050.4,1394.3"/>
<polyline class="l" points="1045.8,1418.2 1050.4,1418.2"/>
<path class="w" d="M1031.5,1415.5 Q1028,1436 1031.8,1456 Q1035,1436 1031.5,1415.5 Z"/>
<polyline class="l" points="1016.5,1424.5 1029,1424.5" style="stroke-width:1.6"/>
<path class="t" d="M1018.5,1425 L1018.5,1436 M1023.5,1425 L1023.5,1440 M1018.5,1431 L1027,1431 L1027,1440 L1023,1440 M1026,1434 L1030.5,1434 L1030.5,1443 L1026,1443"/>
<path class="t" d="M1017.5,1436 q3,1.5 0,3.5 q-2,2 1.5,3.5 M1019.5,1441 q2.5,4 1,8 q-1,3 -2.5,5"/>
<path class="t" d="M1022,1449 L1019.5,1454 L1015.5,1456 Q1013,1459 1016.5,1460.5 Q1021,1461 1023.5,1457 L1024.5,1452"/>
<circle class="k" cx="1021.5" cy="1456" r="1.8"/>
</svg>
</body></html>
